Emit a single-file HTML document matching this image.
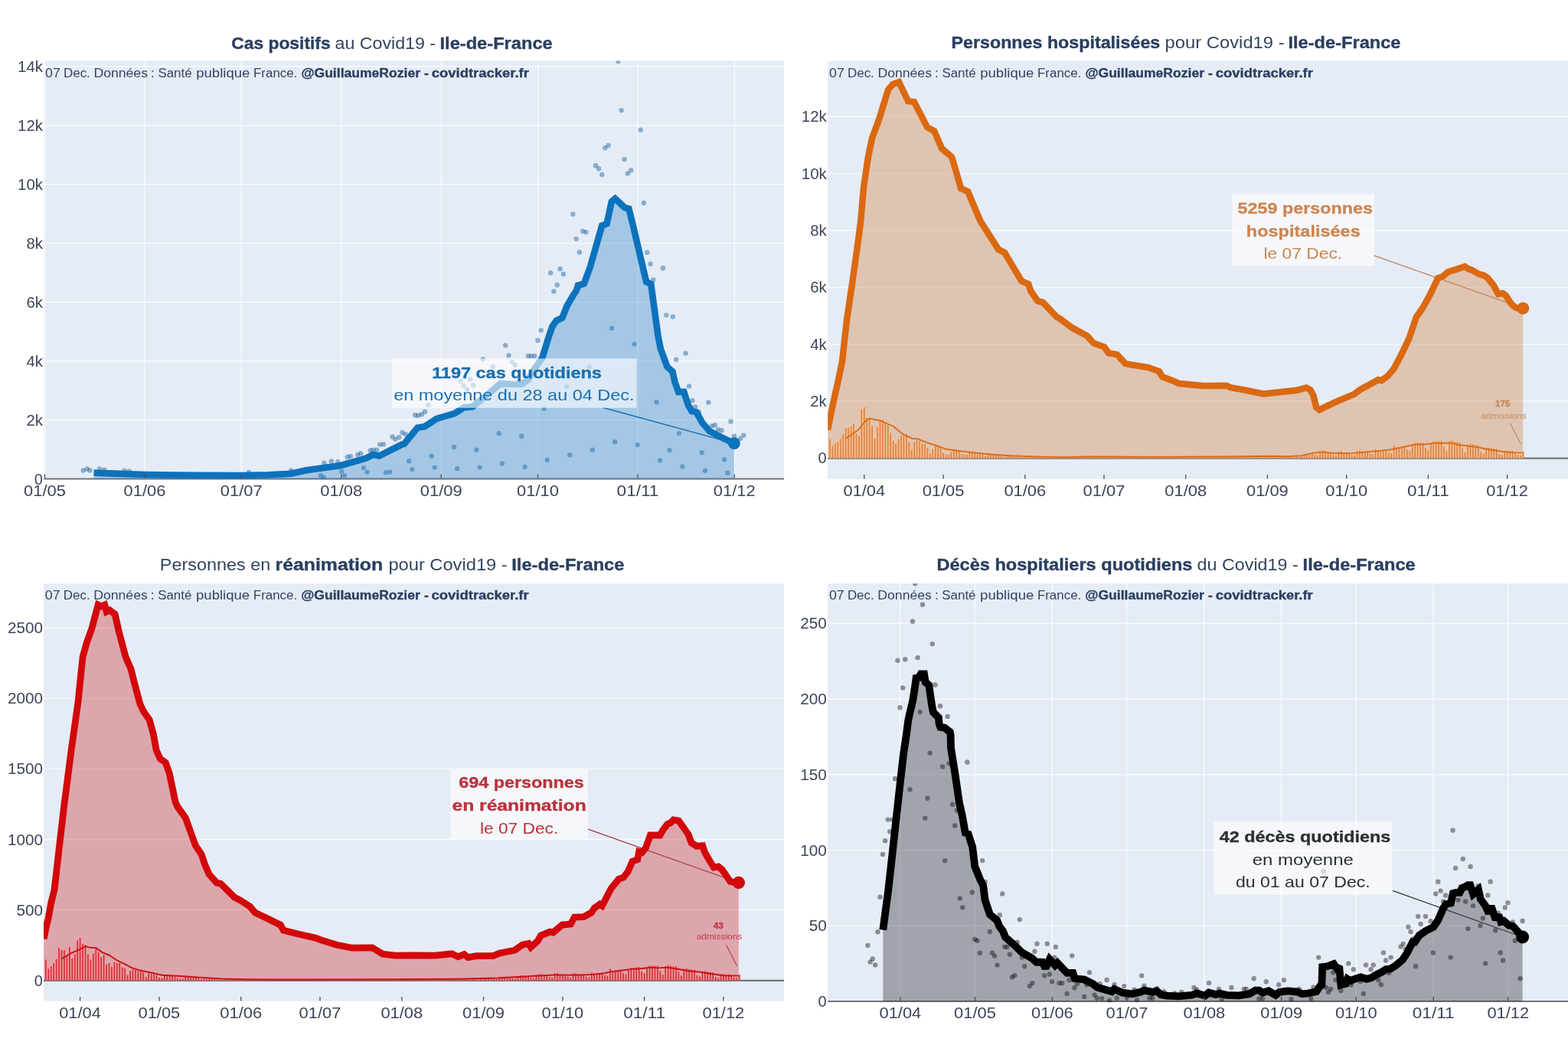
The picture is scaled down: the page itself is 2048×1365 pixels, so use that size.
<!DOCTYPE html>
<html lang="fr">
<head>
<meta charset="utf-8">
<title>Covid19 - Ile-de-France</title>
<style>
html,body{margin:0;padding:0;background:#fff;}
body{width:2048px;height:1365px;overflow:hidden;}
svg{display:block;font-family:"Liberation Sans", sans-serif;}
</style>
</head>
<body>
<svg width="2048" height="1365" viewBox="0 0 2048 1365">
<rect width="2048" height="1365" fill="#fff"/>
<clipPath id="clip1b"><rect x="57.2" y="79.6" width="966.8" height="547.2"/></clipPath>
<clipPath id="clip4b"><rect x="1081.1" y="762.2" width="966.9" height="547.1"/></clipPath>
<clipPath id="clip1"><rect x="57.2" y="79.6" width="966.8" height="546.1"/></clipPath>
<rect x="57.2" y="79.6" width="966.8" height="546.1" fill="#E5ECF6"/>
<path d="M58.5,79.6 V625.7 M189.0,79.6 V625.7 M315.2,79.6 V625.7 M445.7,79.6 V625.7 M576.2,79.6 V625.7 M702.5,79.6 V625.7 M833.0,79.6 V625.7 M959.2,79.6 V625.7 M57.2,548.7 H1024 M57.2,471.7 H1024 M57.2,394.7 H1024 M57.2,317.7 H1024 M57.2,240.7 H1024 M57.2,163.7 H1024 M57.2,86.7 H1024" stroke="#fff" stroke-opacity="0.72" stroke-width="1.4" fill="none" clip-path="url(#clip1)"/>
<text y="63.6" font-size="21.6"><tspan x="302.2" fill="#2a3f5f" font-weight="700" stroke="#2a3f5f" stroke-width="0.35" textLength="129.5" lengthAdjust="spacingAndGlyphs">Cas positifs</tspan> <tspan x="437.5" fill="#34445f" textLength="131.5" lengthAdjust="spacingAndGlyphs">au Covid19 -</tspan> <tspan x="574.5" fill="#2a3f5f" font-weight="700" stroke="#2a3f5f" stroke-width="0.35" textLength="147.2" lengthAdjust="spacingAndGlyphs">Ile-de-France</tspan></text>
<text x="50.2" y="632.7" font-size="20" text-anchor="middle" fill="#3c4558">0</text>
<text x="56.0" y="555.7" font-size="20" text-anchor="end" fill="#3c4558" textLength="21.5" lengthAdjust="spacingAndGlyphs">2k</text>
<text x="56.0" y="478.7" font-size="20" text-anchor="end" fill="#3c4558" textLength="21.5" lengthAdjust="spacingAndGlyphs">4k</text>
<text x="56.0" y="401.7" font-size="20" text-anchor="end" fill="#3c4558" textLength="21.5" lengthAdjust="spacingAndGlyphs">6k</text>
<text x="56.0" y="324.7" font-size="20" text-anchor="end" fill="#3c4558" textLength="21.5" lengthAdjust="spacingAndGlyphs">8k</text>
<text x="56.0" y="247.7" font-size="20" text-anchor="end" fill="#3c4558" textLength="33.0" lengthAdjust="spacingAndGlyphs">10k</text>
<text x="56.0" y="170.7" font-size="20" text-anchor="end" fill="#3c4558" textLength="33.0" lengthAdjust="spacingAndGlyphs">12k</text>
<text x="56.0" y="93.7" font-size="20" text-anchor="end" fill="#3c4558" textLength="33.0" lengthAdjust="spacingAndGlyphs">14k</text>
<path d="M57.2,625.5 H1024" stroke="#73767c" stroke-width="2.2" fill="none"/>
<g fill="rgb(20,95,155)" fill-opacity="0.45" clip-path="url(#clip1)"><circle cx="706.6" cy="431.4" r="3.2"/><circle cx="719.1" cy="356.4" r="3.2"/><circle cx="731.6" cy="351.2" r="3.2"/><circle cx="735.9" cy="358.0" r="3.2"/><circle cx="727.7" cy="372.3" r="3.2"/><circle cx="723.3" cy="380.6" r="3.2"/><circle cx="748.4" cy="279.8" r="3.2"/><circle cx="761.2" cy="302.0" r="3.2"/><circle cx="765.2" cy="303.3" r="3.2"/><circle cx="752.7" cy="311.9" r="3.2"/><circle cx="756.9" cy="329.4" r="3.2"/><circle cx="840.9" cy="265.0" r="3.2"/><circle cx="845.3" cy="329.8" r="3.2"/><circle cx="849.5" cy="344.7" r="3.2"/><circle cx="865.9" cy="350.2" r="3.2"/><circle cx="853.4" cy="365.5" r="3.2"/><circle cx="870.3" cy="411.6" r="3.2"/><circle cx="878.8" cy="413.8" r="3.2"/><circle cx="799.1" cy="428.8" r="3.2"/><circle cx="807.3" cy="80.0" r="3.2"/><circle cx="811.6" cy="144.1" r="3.2"/><circle cx="836.7" cy="169.7" r="3.2"/><circle cx="794.5" cy="190.0" r="3.2"/><circle cx="790.3" cy="193.3" r="3.2"/><circle cx="815.6" cy="208.1" r="3.2"/><circle cx="778.0" cy="216.2" r="3.2"/><circle cx="782.0" cy="220.2" r="3.2"/><circle cx="786.2" cy="228.1" r="3.2"/><circle cx="824.1" cy="222.5" r="3.2"/><circle cx="819.8" cy="226.6" r="3.2"/><circle cx="418.8" cy="621.2" r="3.2"/><circle cx="422.7" cy="623.6" r="3.2"/><circle cx="446.1" cy="615.8" r="3.2"/><circle cx="450.0" cy="621.2" r="3.2"/><circle cx="475.0" cy="611.1" r="3.2"/><circle cx="479.4" cy="616.6" r="3.2"/><circle cx="503.9" cy="617.3" r="3.2"/><circle cx="509.4" cy="616.6" r="3.2"/><circle cx="534.1" cy="602.2" r="3.2"/><circle cx="538.3" cy="613.1" r="3.2"/><circle cx="563.6" cy="595.8" r="3.2"/><circle cx="567.7" cy="610.6" r="3.2"/><circle cx="593.0" cy="584.1" r="3.2"/><circle cx="597.2" cy="611.9" r="3.2"/><circle cx="622.3" cy="587.7" r="3.2"/><circle cx="626.6" cy="610.6" r="3.2"/><circle cx="651.7" cy="566.2" r="3.2"/><circle cx="655.9" cy="605.6" r="3.2"/><circle cx="681.2" cy="569.7" r="3.2"/><circle cx="685.5" cy="610.0" r="3.2"/><circle cx="714.8" cy="600.9" r="3.2"/><circle cx="710.6" cy="533.8" r="3.2"/><circle cx="453.9" cy="597.0" r="3.2"/><circle cx="457.8" cy="595.9" r="3.2"/><circle cx="467.2" cy="593.9" r="3.2"/><circle cx="471.1" cy="592.3" r="3.2"/><circle cx="483.6" cy="588.4" r="3.2"/><circle cx="487.5" cy="587.7" r="3.2"/><circle cx="492.2" cy="587.7" r="3.2"/><circle cx="496.1" cy="580.6" r="3.2"/><circle cx="500.8" cy="580.3" r="3.2"/><circle cx="512.5" cy="570.5" r="3.2"/><circle cx="516.4" cy="573.6" r="3.2"/><circle cx="521.1" cy="571.2" r="3.2"/><circle cx="525.5" cy="565.0" r="3.2"/><circle cx="529.7" cy="567.3" r="3.2"/><circle cx="542.2" cy="542.3" r="3.2"/><circle cx="546.1" cy="542.8" r="3.2"/><circle cx="550.8" cy="541.2" r="3.2"/><circle cx="555.0" cy="537.7" r="3.2"/><circle cx="559.4" cy="529.1" r="3.2"/><circle cx="601.6" cy="497.8" r="3.2"/><circle cx="605.5" cy="503.8" r="3.2"/><circle cx="614.1" cy="495.5" r="3.2"/><circle cx="618.0" cy="503.3" r="3.2"/><circle cx="610.2" cy="508.8" r="3.2"/><circle cx="630.8" cy="469.2" r="3.2"/><circle cx="660.2" cy="451.2" r="3.2"/><circle cx="664.4" cy="464.2" r="3.2"/><circle cx="668.8" cy="472.8" r="3.2"/><circle cx="672.7" cy="476.7" r="3.2"/><circle cx="689.8" cy="465.0" r="3.2"/><circle cx="693.8" cy="465.0" r="3.2"/><circle cx="698.4" cy="465.0" r="3.2"/><circle cx="702.3" cy="444.7" r="3.2"/><circle cx="643.8" cy="479.1" r="3.2"/><circle cx="423.4" cy="604.8" r="3.2"/><circle cx="432.8" cy="602.5" r="3.2"/><circle cx="441.4" cy="603.3" r="3.2"/><circle cx="108.8" cy="614.5" r="3.2"/><circle cx="113.8" cy="612.5" r="3.2"/><circle cx="117.5" cy="614.5" r="3.2"/><circle cx="130.0" cy="612.5" r="3.2"/><circle cx="136.2" cy="613.8" r="3.2"/><circle cx="162.5" cy="615.0" r="3.2"/><circle cx="168.8" cy="615.5" r="3.2"/><circle cx="325.0" cy="617.0" r="3.2"/><circle cx="380.0" cy="614.5" r="3.2"/><circle cx="744.1" cy="594.2" r="3.2"/><circle cx="773.8" cy="587.7" r="3.2"/><circle cx="803.1" cy="577.2" r="3.2"/><circle cx="832.7" cy="581.1" r="3.2"/><circle cx="828.4" cy="449.4" r="3.2"/><circle cx="857.7" cy="525.2" r="3.2"/><circle cx="862.0" cy="601.4" r="3.2"/><circle cx="874.5" cy="588.0" r="3.2"/><circle cx="883.1" cy="469.7" r="3.2"/><circle cx="895.6" cy="461.4" r="3.2"/><circle cx="900.0" cy="504.4" r="3.2"/><circle cx="904.2" cy="523.3" r="3.2"/><circle cx="908.1" cy="531.4" r="3.2"/><circle cx="912.8" cy="538.4" r="3.2"/><circle cx="887.0" cy="566.1" r="3.2"/><circle cx="891.4" cy="609.5" r="3.2"/><circle cx="916.7" cy="591.2" r="3.2"/><circle cx="920.9" cy="614.7" r="3.2"/><circle cx="925.3" cy="525.6" r="3.2"/><circle cx="930.0" cy="556.4" r="3.2"/><circle cx="933.9" cy="555.3" r="3.2"/><circle cx="937.8" cy="561.1" r="3.2"/><circle cx="942.5" cy="562.2" r="3.2"/><circle cx="954.5" cy="550.5" r="3.2"/><circle cx="946.1" cy="600.2" r="3.2"/><circle cx="950.3" cy="617.7" r="3.2"/><circle cx="958.9" cy="569.7" r="3.2"/><circle cx="967.2" cy="572.8" r="3.2"/><circle cx="971.4" cy="568.6" r="3.2"/><circle cx="740.2" cy="504.8" r="3.2"/><circle cx="769.8" cy="479.1" r="3.2"/></g>
<path d="M122.6,617.6 L150.0,618.6 L190.0,620.0 L250.0,620.8 L315.5,621.0 L350.0,620.3 L380.0,618.7 L400.0,614.2 L445.3,608.0 L478.1,598.6 L487.5,593.9 L495.3,595.5 L525.0,580.6 L528.1,579.8 L545.3,558.8 L554.7,557.2 L570.3,547.0 L593.8,540.0 L606.2,532.2 L617.2,531.4 L629.7,521.2 L653.8,501.1 L668.0,501.8 L681.2,502.0 L689.7,496.0 L696.5,484.0 L703.0,475.0 L708.2,467.5 L716.7,440.0 L721.1,426.9 L726.6,419.0 L734.4,415.2 L740.6,399.5 L748.4,386.2 L753.1,379.0 L755.0,372.8 L762.8,370.5 L770.6,349.4 L786.2,294.7 L792.5,292.3 L798.8,263.4 L803.4,259.5 L815.9,271.2 L821.4,272.8 L826.9,294.7 L844.1,368.1 L850.3,371.2 L859.7,440.0 L862.8,455.6 L871.4,479.1 L878.4,485.3 L881.6,499.4 L886.2,511.9 L893.3,511.9 L898.8,529.1 L903.4,536.9 L909.7,538.4 L917.5,552.5 L926.9,563.4 L937.8,568.9 L945.6,572.8 L958.9,579.1 L958.9,625.7 L122.6,625.7 Z" fill="rgb(13,114,188)" fill-opacity="0.3" clip-path="url(#clip1)"/>
<path d="M787.8,532.5 L958.9,579.1" stroke="#1b6fae" stroke-width="1.3" fill="none"/>
<path d="M122.6,617.6 L150.0,618.6 L190.0,620.0 L250.0,620.8 L315.5,621.0 L350.0,620.3 L380.0,618.7 L400.0,614.2 L445.3,608.0 L478.1,598.6 L487.5,593.9 L495.3,595.5 L525.0,580.6 L528.1,579.8 L545.3,558.8 L554.7,557.2 L570.3,547.0 L593.8,540.0 L606.2,532.2 L617.2,531.4 L629.7,521.2 L653.8,501.1 L668.0,501.8 L681.2,502.0 L689.7,496.0 L696.5,484.0 L703.0,475.0 L708.2,467.5 L716.7,440.0 L721.1,426.9 L726.6,419.0 L734.4,415.2 L740.6,399.5 L748.4,386.2 L753.1,379.0 L755.0,372.8 L762.8,370.5 L770.6,349.4 L786.2,294.7 L792.5,292.3 L798.8,263.4 L803.4,259.5 L815.9,271.2 L821.4,272.8 L826.9,294.7 L844.1,368.1 L850.3,371.2 L859.7,440.0 L862.8,455.6 L871.4,479.1 L878.4,485.3 L881.6,499.4 L886.2,511.9 L893.3,511.9 L898.8,529.1 L903.4,536.9 L909.7,538.4 L917.5,552.5 L926.9,563.4 L937.8,568.9 L945.6,572.8 L958.9,579.1" stroke="rgb(13,114,188)" stroke-width="8.6" fill="none" stroke-linejoin="miter" stroke-miterlimit="2" clip-path="url(#clip1b)"/>
<circle cx="958.9" cy="579.1" r="7.9" fill="rgb(13,114,188)"/>
<text x="58.5" y="647.6" font-size="20.5" text-anchor="middle" fill="#3c4558" textLength="54.8" lengthAdjust="spacingAndGlyphs">01/05</text>
<text x="189.0" y="647.6" font-size="20.5" text-anchor="middle" fill="#3c4558" textLength="54.8" lengthAdjust="spacingAndGlyphs">01/06</text>
<text x="315.2" y="647.6" font-size="20.5" text-anchor="middle" fill="#3c4558" textLength="54.8" lengthAdjust="spacingAndGlyphs">01/07</text>
<text x="445.7" y="647.6" font-size="20.5" text-anchor="middle" fill="#3c4558" textLength="54.8" lengthAdjust="spacingAndGlyphs">01/08</text>
<text x="576.2" y="647.6" font-size="20.5" text-anchor="middle" fill="#3c4558" textLength="54.8" lengthAdjust="spacingAndGlyphs">01/09</text>
<text x="702.5" y="647.6" font-size="20.5" text-anchor="middle" fill="#3c4558" textLength="54.8" lengthAdjust="spacingAndGlyphs">01/10</text>
<text x="833.0" y="647.6" font-size="20.5" text-anchor="middle" fill="#3c4558" textLength="54.8" lengthAdjust="spacingAndGlyphs">01/11</text>
<text x="959.2" y="647.6" font-size="20.5" text-anchor="middle" fill="#3c4558" textLength="54.8" lengthAdjust="spacingAndGlyphs">01/12</text>
<path d="M58.5,619.4 V624.6 M189.0,619.4 V624.6 M315.2,619.4 V624.6 M445.7,619.4 V624.6 M576.2,619.4 V624.6 M702.5,619.4 V624.6 M833.0,619.4 V624.6 M959.2,619.4 V624.6" stroke="#4a4d55" stroke-width="1.3" fill="none"/>
<text y="100.8" font-size="17.3"><tspan x="59.0" fill="#34445f" textLength="19.8" lengthAdjust="spacingAndGlyphs">07</tspan> <tspan x="83.0" fill="#34445f" textLength="34.8" lengthAdjust="spacingAndGlyphs">Dec.</tspan> <tspan x="122.4" fill="#34445f" textLength="70.6" lengthAdjust="spacingAndGlyphs">Données</tspan> <tspan x="197.0" fill="#34445f">:</tspan> <tspan x="206.4" fill="#34445f" textLength="44.2" lengthAdjust="spacingAndGlyphs">Santé</tspan> <tspan x="256.2" fill="#34445f" textLength="70.2" lengthAdjust="spacingAndGlyphs">publique</tspan> <tspan x="331.0" fill="#34445f" textLength="57.4" lengthAdjust="spacingAndGlyphs">France.</tspan> <tspan x="393.4" fill="#2a3f5f" font-weight="700" stroke="#2a3f5f" stroke-width="0.35" textLength="155.6" lengthAdjust="spacingAndGlyphs">@GuillaumeRozier</tspan> <tspan x="554.1" fill="#2a3f5f" font-weight="700" stroke="#2a3f5f" stroke-width="0.35">-</tspan> <tspan x="563.8" fill="#2a3f5f" font-weight="700" stroke="#2a3f5f" stroke-width="0.35" textLength="127.1" lengthAdjust="spacingAndGlyphs">covidtracker.fr</tspan></text>
<rect x="512" y="468.3" width="319.6" height="64.5" fill="#fff" fill-opacity="0.6"/>
<text x="675.0" y="493.5" font-size="21" text-anchor="middle" fill="#1b6fae" font-weight="700" stroke="#1b6fae" stroke-width="0.35" textLength="221.7" lengthAdjust="spacingAndGlyphs">1197 cas quotidiens</text>
<text x="671.4" y="523.4" font-size="21" text-anchor="middle" fill="#1b6fae" textLength="314.5" lengthAdjust="spacingAndGlyphs">en moyenne du 28 au 04 Dec.</text>
<clipPath id="clip2"><rect x="1081.2" y="79.6" width="966.8" height="546.0"/></clipPath>
<rect x="1081.2" y="79.6" width="966.8" height="546.0" fill="#E5ECF6"/>
<path d="M1081.2,524.0 H2048 M1081.2,449.7 H2048 M1081.2,375.4 H2048 M1081.2,301.0 H2048 M1081.2,226.6 H2048 M1081.2,152.3 H2048" stroke="#fff" stroke-opacity="0.72" stroke-width="1.4" fill="none" clip-path="url(#clip2)"/>
<text y="63.3" font-size="21.6"><tspan x="1242.5" fill="#2a3f5f" font-weight="700" stroke="#2a3f5f" stroke-width="0.35" textLength="272.8" lengthAdjust="spacingAndGlyphs">Personnes hospitalisées</tspan> <tspan x="1521.6" fill="#34445f" textLength="156.0" lengthAdjust="spacingAndGlyphs">pour Covid19 -</tspan> <tspan x="1682.5" fill="#2a3f5f" font-weight="700" stroke="#2a3f5f" stroke-width="0.35" textLength="147.0" lengthAdjust="spacingAndGlyphs">Ile-de-France</tspan></text>
<text x="1074.0" y="605.4" font-size="20" text-anchor="middle" fill="#3c4558">0</text>
<text x="1079.8" y="531.0" font-size="20" text-anchor="end" fill="#3c4558" textLength="21.5" lengthAdjust="spacingAndGlyphs">2k</text>
<text x="1079.8" y="456.7" font-size="20" text-anchor="end" fill="#3c4558" textLength="21.5" lengthAdjust="spacingAndGlyphs">4k</text>
<text x="1079.8" y="382.4" font-size="20" text-anchor="end" fill="#3c4558" textLength="21.5" lengthAdjust="spacingAndGlyphs">6k</text>
<text x="1079.8" y="308.0" font-size="20" text-anchor="end" fill="#3c4558" textLength="21.5" lengthAdjust="spacingAndGlyphs">8k</text>
<text x="1079.8" y="233.6" font-size="20" text-anchor="end" fill="#3c4558" textLength="33.0" lengthAdjust="spacingAndGlyphs">10k</text>
<text x="1079.8" y="159.3" font-size="20" text-anchor="end" fill="#3c4558" textLength="33.0" lengthAdjust="spacingAndGlyphs">12k</text>
<path d="M1081.2,598.6 H2048" stroke="#73767c" stroke-width="2.2" fill="none"/>
<path d="M1081.1,561.5 L1085.6,539.0 L1090.6,515.6 L1094.2,500.0 L1100.0,472.2 L1106.0,418.1 L1113.1,370.1 L1120.1,320.0 L1124.1,290.0 L1128.1,244.2 L1134.1,204.1 L1139.1,180.1 L1148.1,156.1 L1160.1,117.1 L1166.1,110.0 L1174.1,107.0 L1186.1,132.1 L1194.1,133.1 L1211.1,166.1 L1220.2,171.1 L1230.2,194.1 L1243.2,205.1 L1255.2,246.2 L1264.2,250.2 L1280.2,288.2 L1304.2,326.0 L1312.2,330.0 L1334.3,367.1 L1343.3,371.1 L1346.3,380.1 L1355.3,393.1 L1362.3,395.1 L1380.3,414.1 L1384.3,416.1 L1400.3,428.1 L1420.4,439.1 L1428.4,448.2 L1442.4,453.2 L1448.0,461.1 L1459.0,463.1 L1470.0,475.1 L1500.1,480.1 L1514.1,485.1 L1518.1,492.1 L1536.1,499.1 L1540.1,501.1 L1572.1,504.1 L1602.2,503.7 L1608.2,506.5 L1624.2,509.1 L1650.2,514.5 L1694.2,509.7 L1706.3,506.5 L1711.3,509.1 L1715.3,516.1 L1719.3,532.1 L1723.3,535.2 L1744.3,525.1 L1768.3,515.1 L1776.3,509.1 L1800.4,496.1 L1804.4,497.1 L1812.4,491.1 L1820.4,482.1 L1830.4,463.1 L1840.4,442.1 L1850.0,414.0 L1858.2,402.2 L1868.2,384.2 L1878.2,363.2 L1884.2,361.2 L1891.2,355.2 L1904.3,351.1 L1913.3,348.1 L1918.3,351.7 L1920.8,351.9 L1931.8,358.1 L1938.0,359.7 L1942.7,362.8 L1950.5,372.2 L1956.8,383.9 L1963.0,383.1 L1966.9,386.2 L1972.4,394.8 L1976.3,399.5 L1981.0,402.3 L1989.2,402.7 L1989.2,598.4 L1081.1,598.4 Z" fill="rgb(209,102,21)" fill-opacity="0.3" clip-path="url(#clip2)"/>
<path d="M1794.2,333.7 L1989.2,402.7" stroke="#b98a66" stroke-width="1.3" fill="none"/>
<path d="M1081.1,561.5 L1085.6,539.0 L1090.6,515.6 L1094.2,500.0 L1100.0,472.2 L1106.0,418.1 L1113.1,370.1 L1120.1,320.0 L1124.1,290.0 L1128.1,244.2 L1134.1,204.1 L1139.1,180.1 L1148.1,156.1 L1160.1,117.1 L1166.1,110.0 L1174.1,107.0 L1186.1,132.1 L1194.1,133.1 L1211.1,166.1 L1220.2,171.1 L1230.2,194.1 L1243.2,205.1 L1255.2,246.2 L1264.2,250.2 L1280.2,288.2 L1304.2,326.0 L1312.2,330.0 L1334.3,367.1 L1343.3,371.1 L1346.3,380.1 L1355.3,393.1 L1362.3,395.1 L1380.3,414.1 L1384.3,416.1 L1400.3,428.1 L1420.4,439.1 L1428.4,448.2 L1442.4,453.2 L1448.0,461.1 L1459.0,463.1 L1470.0,475.1 L1500.1,480.1 L1514.1,485.1 L1518.1,492.1 L1536.1,499.1 L1540.1,501.1 L1572.1,504.1 L1602.2,503.7 L1608.2,506.5 L1624.2,509.1 L1650.2,514.5 L1694.2,509.7 L1706.3,506.5 L1711.3,509.1 L1715.3,516.1 L1719.3,532.1 L1723.3,535.2 L1744.3,525.1 L1768.3,515.1 L1776.3,509.1 L1800.4,496.1 L1804.4,497.1 L1812.4,491.1 L1820.4,482.1 L1830.4,463.1 L1840.4,442.1 L1850.0,414.0 L1858.2,402.2 L1868.2,384.2 L1878.2,363.2 L1884.2,361.2 L1891.2,355.2 L1904.3,351.1 L1913.3,348.1 L1918.3,351.7 L1920.8,351.9 L1931.8,358.1 L1938.0,359.7 L1942.7,362.8 L1950.5,372.2 L1956.8,383.9 L1963.0,383.1 L1966.9,386.2 L1972.4,394.8 L1976.3,399.5 L1981.0,402.3 L1989.2,402.7" stroke="rgb(218,105,17)" stroke-width="8.5" fill="none" stroke-linejoin="miter" stroke-miterlimit="2" clip-path="url(#clip2)"/>
<circle cx="1989.2" cy="402.7" r="8.0" fill="rgb(218,105,17)"/>
<path d="M1082.33,598.4 V572.6 h3.44 V598.4 Z M1085.77,598.4 V581.2 h3.44 V598.4 Z M1089.22,598.4 V578.1 h3.44 V598.4 Z M1092.66,598.4 V576.5 h3.44 V598.4 Z M1096.10,598.4 V572.6 h3.44 V598.4 Z M1099.54,598.4 V566.4 h3.44 V598.4 Z M1102.98,598.4 V558.6 h3.44 V598.4 Z M1106.43,598.4 V557.8 h3.44 V598.4 Z M1109.87,598.4 V556.2 h3.44 V598.4 Z M1113.31,598.4 V553.1 h3.44 V598.4 Z M1116.75,598.4 V565.6 h3.44 V598.4 Z M1120.19,598.4 V568.7 h3.44 V598.4 Z M1123.64,598.4 V533.6 h3.44 V598.4 Z M1127.08,598.4 V531.2 h3.44 V598.4 Z M1130.52,598.4 V545.3 h3.44 V598.4 Z M1133.96,598.4 V544.5 h3.44 V598.4 Z M1137.40,598.4 V555.5 h3.44 V598.4 Z M1140.85,598.4 V571.9 h3.44 V598.4 Z M1144.29,598.4 V557.0 h3.44 V598.4 Z M1147.73,598.4 V547.6 h3.44 V598.4 Z M1151.17,598.4 V547.6 h3.44 V598.4 Z M1154.62,598.4 V552.3 h3.44 V598.4 Z M1158.06,598.4 V553.1 h3.44 V598.4 Z M1161.50,598.4 V564.8 h3.44 V598.4 Z M1164.94,598.4 V575.0 h3.44 V598.4 Z M1168.38,598.4 V578.9 h3.44 V598.4 Z M1171.83,598.4 V572.6 h3.44 V598.4 Z M1175.27,598.4 V568.0 h3.44 V598.4 Z M1178.71,598.4 V566.4 h3.44 V598.4 Z M1182.15,598.4 V566.4 h3.44 V598.4 Z M1185.59,598.4 V576.5 h3.44 V598.4 Z M1189.03,598.4 V586.7 h3.44 V598.4 Z M1192.48,598.4 V576.5 h3.44 V598.4 Z M1195.92,598.4 V574.2 h3.44 V598.4 Z M1199.36,598.4 V575.0 h3.44 V598.4 Z M1202.80,598.4 V578.9 h3.44 V598.4 Z M1206.24,598.4 V578.9 h3.44 V598.4 Z M1209.69,598.4 V584.4 h3.44 V598.4 Z M1213.13,598.4 V591.4 h3.44 V598.4 Z M1216.57,598.4 V585.9 h3.44 V598.4 Z M1220.01,598.4 V579.7 h3.44 V598.4 Z M1223.45,598.4 V582.0 h3.44 V598.4 Z M1226.90,598.4 V584.4 h3.44 V598.4 Z M1230.34,598.4 V590.6 h3.44 V598.4 Z M1233.78,598.4 V593.0 h3.44 V598.4 Z M1237.22,598.4 V593.0 h3.44 V598.4 Z M1240.66,598.4 V589.8 h3.44 V598.4 Z M1244.11,598.4 V585.9 h3.44 V598.4 Z M1247.55,598.4 V585.9 h3.44 V598.4 Z M1250.99,598.4 V588.3 h3.44 V598.4 Z M1254.43,598.4 V592.2 h3.44 V598.4 Z M1257.88,598.4 V593.0 h3.44 V598.4 Z M1261.32,598.4 V593.0 h3.44 V598.4 Z M1264.76,598.4 V589.2 h3.44 V598.4 Z M1268.20,598.4 V588.9 h3.44 V598.4 Z M1271.64,598.4 V589.5 h3.44 V598.4 Z M1275.09,598.4 V589.9 h3.44 V598.4 Z M1278.53,598.4 V590.2 h3.44 V598.4 Z M1281.97,598.4 V593.0 h3.44 V598.4 Z M1285.41,598.4 V595.0 h3.44 V598.4 Z M1288.85,598.4 V591.7 h3.44 V598.4 Z M1292.30,598.4 V591.7 h3.44 V598.4 Z M1295.74,598.4 V592.2 h3.44 V598.4 Z M1299.18,598.4 V592.4 h3.44 V598.4 Z M1302.62,598.4 V592.6 h3.44 V598.4 Z M1306.06,598.4 V595.3 h3.44 V598.4 Z M1309.50,598.4 V595.9 h3.44 V598.4 Z M1312.95,598.4 V593.7 h3.44 V598.4 Z M1316.39,598.4 V593.6 h3.44 V598.4 Z M1319.83,598.4 V593.9 h3.44 V598.4 Z M1323.27,598.4 V594.1 h3.44 V598.4 Z M1326.71,598.4 V594.2 h3.44 V598.4 Z M1330.16,598.4 V596.0 h3.44 V598.4 Z M1333.60,598.4 V596.4 h3.44 V598.4 Z M1337.04,598.4 V594.8 h3.44 V598.4 Z M1340.48,598.4 V594.7 h3.44 V598.4 Z M1343.92,598.4 V594.9 h3.44 V598.4 Z M1347.37,598.4 V595.0 h3.44 V598.4 Z M1350.81,598.4 V595.8 h3.44 V598.4 Z M1354.25,598.4 V596.4 h3.44 V598.4 Z M1357.69,598.4 V596.7 h3.44 V598.4 Z M1361.13,598.4 V595.5 h3.44 V598.4 Z M1364.58,598.4 V595.4 h3.44 V598.4 Z M1368.02,598.4 V595.6 h3.44 V598.4 Z M1371.46,598.4 V595.6 h3.44 V598.4 Z M1374.90,598.4 V596.2 h3.44 V598.4 Z M1378.35,598.4 V596.7 h3.44 V598.4 Z M1381.79,598.4 V596.9 h3.44 V598.4 Z M1385.23,598.4 V596.0 h3.44 V598.4 Z M1388.67,598.4 V596.0 h3.44 V598.4 Z M1392.11,598.4 V595.9 h3.44 V598.4 Z M1395.55,598.4 V596.3 h3.44 V598.4 Z M1399.00,598.4 V596.2 h3.44 V598.4 Z M1402.44,598.4 V596.6 h3.44 V598.4 Z M1405.88,598.4 V596.8 h3.44 V598.4 Z M1409.32,598.4 V595.5 h3.44 V598.4 Z M1412.76,598.4 V595.2 h3.44 V598.4 Z M1416.21,598.4 V595.2 h3.44 V598.4 Z M1419.65,598.4 V595.7 h3.44 V598.4 Z M1423.09,598.4 V595.7 h3.44 V598.4 Z M1426.53,598.4 V596.4 h3.44 V598.4 Z M1429.97,598.4 V596.6 h3.44 V598.4 Z M1433.42,598.4 V595.2 h3.44 V598.4 Z M1436.86,598.4 V595.1 h3.44 V598.4 Z M1440.30,598.4 V595.8 h3.44 V598.4 Z M1443.74,598.4 V595.8 h3.44 V598.4 Z M1447.18,598.4 V595.7 h3.44 V598.4 Z M1450.63,598.4 V596.4 h3.44 V598.4 Z M1454.07,598.4 V596.6 h3.44 V598.4 Z M1457.51,598.4 V595.3 h3.44 V598.4 Z M1460.95,598.4 V595.2 h3.44 V598.4 Z M1464.39,598.4 V595.8 h3.44 V598.4 Z M1467.84,598.4 V595.8 h3.44 V598.4 Z M1471.28,598.4 V595.8 h3.44 V598.4 Z M1474.72,598.4 V596.4 h3.44 V598.4 Z M1478.16,598.4 V596.7 h3.44 V598.4 Z M1481.61,598.4 V595.4 h3.44 V598.4 Z M1485.05,598.4 V595.8 h3.44 V598.4 Z M1488.49,598.4 V595.9 h3.44 V598.4 Z M1491.93,598.4 V595.9 h3.44 V598.4 Z M1495.37,598.4 V595.9 h3.44 V598.4 Z M1498.82,598.4 V596.5 h3.44 V598.4 Z M1502.26,598.4 V596.7 h3.44 V598.4 Z M1505.70,598.4 V595.4 h3.44 V598.4 Z M1509.14,598.4 V595.8 h3.44 V598.4 Z M1512.58,598.4 V595.8 h3.44 V598.4 Z M1516.03,598.4 V595.8 h3.44 V598.4 Z M1519.47,598.4 V595.8 h3.44 V598.4 Z M1522.91,598.4 V596.4 h3.44 V598.4 Z M1526.35,598.4 V596.6 h3.44 V598.4 Z M1529.79,598.4 V595.8 h3.44 V598.4 Z M1533.23,598.4 V595.7 h3.44 V598.4 Z M1536.68,598.4 V595.7 h3.44 V598.4 Z M1540.12,598.4 V595.7 h3.44 V598.4 Z M1543.56,598.4 V595.6 h3.44 V598.4 Z M1547.00,598.4 V596.3 h3.44 V598.4 Z M1550.44,598.4 V596.6 h3.44 V598.4 Z M1553.89,598.4 V595.7 h3.44 V598.4 Z M1557.33,598.4 V595.5 h3.44 V598.4 Z M1560.77,598.4 V595.6 h3.44 V598.4 Z M1564.21,598.4 V595.5 h3.44 V598.4 Z M1567.65,598.4 V595.5 h3.44 V598.4 Z M1571.10,598.4 V596.2 h3.44 V598.4 Z M1574.54,598.4 V596.8 h3.44 V598.4 Z M1577.98,598.4 V595.6 h3.44 V598.4 Z M1581.42,598.4 V595.4 h3.44 V598.4 Z M1584.87,598.4 V595.4 h3.44 V598.4 Z M1588.31,598.4 V595.4 h3.44 V598.4 Z M1591.75,598.4 V595.4 h3.44 V598.4 Z M1595.19,598.4 V596.1 h3.44 V598.4 Z M1598.63,598.4 V596.7 h3.44 V598.4 Z M1602.08,598.4 V595.4 h3.44 V598.4 Z M1605.52,598.4 V595.2 h3.44 V598.4 Z M1608.96,598.4 V595.2 h3.44 V598.4 Z M1612.40,598.4 V595.1 h3.44 V598.4 Z M1615.84,598.4 V595.1 h3.44 V598.4 Z M1619.28,598.4 V596.3 h3.44 V598.4 Z M1622.73,598.4 V596.6 h3.44 V598.4 Z M1626.17,598.4 V595.1 h3.44 V598.4 Z M1629.61,598.4 V594.8 h3.44 V598.4 Z M1633.05,598.4 V594.8 h3.44 V598.4 Z M1636.49,598.4 V594.7 h3.44 V598.4 Z M1639.94,598.4 V594.7 h3.44 V598.4 Z M1643.38,598.4 V596.1 h3.44 V598.4 Z M1646.82,598.4 V596.4 h3.44 V598.4 Z M1650.26,598.4 V594.7 h3.44 V598.4 Z M1653.70,598.4 V594.4 h3.44 V598.4 Z M1657.15,598.4 V594.4 h3.44 V598.4 Z M1660.59,598.4 V594.4 h3.44 V598.4 Z M1664.03,598.4 V595.3 h3.44 V598.4 Z M1667.47,598.4 V596.1 h3.44 V598.4 Z M1670.91,598.4 V596.4 h3.44 V598.4 Z M1674.36,598.4 V594.9 h3.44 V598.4 Z M1677.80,598.4 V594.7 h3.44 V598.4 Z M1681.24,598.4 V594.7 h3.44 V598.4 Z M1684.68,598.4 V594.4 h3.44 V598.4 Z M1688.12,598.4 V595.0 h3.44 V598.4 Z M1691.57,598.4 V595.8 h3.44 V598.4 Z M1695.01,598.4 V596.1 h3.44 V598.4 Z M1698.45,598.4 V593.7 h3.44 V598.4 Z M1701.89,598.4 V592.3 h3.44 V598.4 Z M1705.34,598.4 V591.4 h3.44 V598.4 Z M1708.78,598.4 V592.1 h3.44 V598.4 Z M1712.22,598.4 V591.2 h3.44 V598.4 Z M1715.66,598.4 V593.1 h3.44 V598.4 Z M1719.10,598.4 V593.9 h3.44 V598.4 Z M1722.55,598.4 V588.3 h3.44 V598.4 Z M1725.99,598.4 V587.1 h3.44 V598.4 Z M1729.43,598.4 V587.7 h3.44 V598.4 Z M1732.87,598.4 V590.5 h3.44 V598.4 Z M1736.31,598.4 V590.7 h3.44 V598.4 Z M1739.76,598.4 V593.2 h3.44 V598.4 Z M1743.20,598.4 V594.2 h3.44 V598.4 Z M1746.64,598.4 V589.4 h3.44 V598.4 Z M1750.08,598.4 V588.8 h3.44 V598.4 Z M1753.52,598.4 V591.3 h3.44 V598.4 Z M1756.97,598.4 V591.3 h3.44 V598.4 Z M1760.41,598.4 V591.1 h3.44 V598.4 Z M1763.85,598.4 V593.2 h3.44 V598.4 Z M1767.29,598.4 V594.0 h3.44 V598.4 Z M1770.73,598.4 V588.5 h3.44 V598.4 Z M1774.17,598.4 V587.4 h3.44 V598.4 Z M1777.62,598.4 V589.8 h3.44 V598.4 Z M1781.06,598.4 V589.4 h3.44 V598.4 Z M1784.50,598.4 V589.0 h3.44 V598.4 Z M1787.94,598.4 V591.7 h3.44 V598.4 Z M1791.38,598.4 V592.8 h3.44 V598.4 Z M1794.83,598.4 V585.6 h3.44 V598.4 Z M1798.27,598.4 V587.6 h3.44 V598.4 Z M1801.71,598.4 V587.4 h3.44 V598.4 Z M1805.15,598.4 V586.9 h3.44 V598.4 Z M1808.60,598.4 V586.3 h3.44 V598.4 Z M1812.04,598.4 V590.0 h3.44 V598.4 Z M1815.48,598.4 V591.3 h3.44 V598.4 Z M1818.92,598.4 V581.3 h3.44 V598.4 Z M1822.36,598.4 V583.6 h3.44 V598.4 Z M1825.80,598.4 V583.1 h3.44 V598.4 Z M1829.25,598.4 V582.2 h3.44 V598.4 Z M1832.69,598.4 V581.1 h3.44 V598.4 Z M1836.13,598.4 V586.2 h3.44 V598.4 Z M1839.57,598.4 V588.2 h3.44 V598.4 Z M1843.01,598.4 V579.8 h3.44 V598.4 Z M1846.46,598.4 V577.4 h3.44 V598.4 Z M1849.90,598.4 V577.8 h3.44 V598.4 Z M1853.34,598.4 V577.6 h3.44 V598.4 Z M1856.78,598.4 V577.3 h3.44 V598.4 Z M1860.22,598.4 V584.2 h3.44 V598.4 Z M1863.67,598.4 V586.8 h3.44 V598.4 Z M1867.11,598.4 V577.4 h3.44 V598.4 Z M1870.55,598.4 V575.2 h3.44 V598.4 Z M1873.99,598.4 V575.5 h3.44 V598.4 Z M1877.43,598.4 V575.3 h3.44 V598.4 Z M1880.88,598.4 V574.9 h3.44 V598.4 Z M1884.32,598.4 V582.7 h3.44 V598.4 Z M1887.76,598.4 V588.8 h3.44 V598.4 Z M1891.20,598.4 V576.0 h3.44 V598.4 Z M1894.64,598.4 V574.5 h3.44 V598.4 Z M1898.09,598.4 V576.0 h3.44 V598.4 Z M1901.53,598.4 V576.8 h3.44 V598.4 Z M1904.97,598.4 V577.4 h3.44 V598.4 Z M1908.41,598.4 V584.7 h3.44 V598.4 Z M1911.86,598.4 V590.1 h3.44 V598.4 Z M1915.30,598.4 V579.8 h3.44 V598.4 Z M1918.74,598.4 V578.8 h3.44 V598.4 Z M1922.18,598.4 V579.7 h3.44 V598.4 Z M1925.62,598.4 V580.2 h3.44 V598.4 Z M1929.07,598.4 V580.7 h3.44 V598.4 Z M1932.51,598.4 V589.7 h3.44 V598.4 Z M1935.95,598.4 V591.6 h3.44 V598.4 Z M1939.39,598.4 V583.9 h3.44 V598.4 Z M1942.83,598.4 V583.6 h3.44 V598.4 Z M1946.28,598.4 V584.6 h3.44 V598.4 Z M1949.72,598.4 V585.2 h3.44 V598.4 Z M1953.16,598.4 V585.7 h3.44 V598.4 Z M1956.60,598.4 V592.0 h3.44 V598.4 Z M1960.04,598.4 V593.4 h3.44 V598.4 Z M1963.49,598.4 V588.1 h3.44 V598.4 Z M1966.93,598.4 V587.6 h3.44 V598.4 Z M1970.37,598.4 V588.1 h3.44 V598.4 Z M1973.81,598.4 V588.3 h3.44 V598.4 Z M1977.25,598.4 V590.8 h3.44 V598.4 Z M1980.69,598.4 V593.1 h3.44 V598.4 Z M1984.14,598.4 V594.1 h3.44 V598.4 Z M1987.58,598.4 V589.2 h3.44 V598.4 Z" fill="rgb(250,192,145)" fill-opacity="0.8" clip-path="url(#clip2)"/>
<path d="M1083.20,598.4 V573.4 h1.7 V598.4 Z M1086.65,598.4 V582.0 h1.7 V598.4 Z M1090.09,598.4 V578.9 h1.7 V598.4 Z M1093.53,598.4 V577.3 h1.7 V598.4 Z M1096.97,598.4 V573.4 h1.7 V598.4 Z M1100.41,598.4 V567.2 h1.7 V598.4 Z M1103.86,598.4 V559.4 h1.7 V598.4 Z M1107.30,598.4 V558.6 h1.7 V598.4 Z M1110.74,598.4 V557.0 h1.7 V598.4 Z M1114.18,598.4 V553.9 h1.7 V598.4 Z M1117.62,598.4 V566.4 h1.7 V598.4 Z M1121.07,598.4 V569.5 h1.7 V598.4 Z M1124.51,598.4 V534.4 h1.7 V598.4 Z M1127.95,598.4 V532.0 h1.7 V598.4 Z M1131.39,598.4 V546.1 h1.7 V598.4 Z M1134.83,598.4 V545.3 h1.7 V598.4 Z M1138.28,598.4 V556.2 h1.7 V598.4 Z M1141.72,598.4 V572.7 h1.7 V598.4 Z M1145.16,598.4 V557.8 h1.7 V598.4 Z M1148.60,598.4 V548.4 h1.7 V598.4 Z M1152.04,598.4 V548.4 h1.7 V598.4 Z M1155.49,598.4 V553.1 h1.7 V598.4 Z M1158.93,598.4 V553.9 h1.7 V598.4 Z M1162.37,598.4 V565.6 h1.7 V598.4 Z M1165.81,598.4 V575.8 h1.7 V598.4 Z M1169.25,598.4 V579.7 h1.7 V598.4 Z M1172.70,598.4 V573.4 h1.7 V598.4 Z M1176.14,598.4 V568.8 h1.7 V598.4 Z M1179.58,598.4 V567.2 h1.7 V598.4 Z M1183.02,598.4 V567.2 h1.7 V598.4 Z M1186.46,598.4 V577.3 h1.7 V598.4 Z M1189.91,598.4 V587.5 h1.7 V598.4 Z M1193.35,598.4 V577.3 h1.7 V598.4 Z M1196.79,598.4 V575.0 h1.7 V598.4 Z M1200.23,598.4 V575.8 h1.7 V598.4 Z M1203.67,598.4 V579.7 h1.7 V598.4 Z M1207.12,598.4 V579.7 h1.7 V598.4 Z M1210.56,598.4 V585.2 h1.7 V598.4 Z M1214.00,598.4 V592.2 h1.7 V598.4 Z M1217.44,598.4 V586.7 h1.7 V598.4 Z M1220.88,598.4 V580.5 h1.7 V598.4 Z M1224.33,598.4 V582.8 h1.7 V598.4 Z M1227.77,598.4 V585.2 h1.7 V598.4 Z M1231.21,598.4 V591.4 h1.7 V598.4 Z M1234.65,598.4 V593.8 h1.7 V598.4 Z M1238.09,598.4 V593.8 h1.7 V598.4 Z M1241.54,598.4 V590.6 h1.7 V598.4 Z M1244.98,598.4 V586.7 h1.7 V598.4 Z M1248.42,598.4 V586.7 h1.7 V598.4 Z M1251.86,598.4 V589.1 h1.7 V598.4 Z M1255.30,598.4 V593.0 h1.7 V598.4 Z M1258.75,598.4 V593.8 h1.7 V598.4 Z M1262.19,598.4 V593.8 h1.7 V598.4 Z M1265.63,598.4 V590.0 h1.7 V598.4 Z M1269.07,598.4 V589.7 h1.7 V598.4 Z M1272.51,598.4 V590.3 h1.7 V598.4 Z M1275.96,598.4 V590.7 h1.7 V598.4 Z M1279.40,598.4 V591.0 h1.7 V598.4 Z M1282.84,598.4 V593.8 h1.7 V598.4 Z M1286.28,598.4 V595.8 h1.7 V598.4 Z M1289.72,598.4 V592.5 h1.7 V598.4 Z M1293.17,598.4 V592.5 h1.7 V598.4 Z M1296.61,598.4 V593.0 h1.7 V598.4 Z M1300.05,598.4 V593.2 h1.7 V598.4 Z M1303.49,598.4 V593.4 h1.7 V598.4 Z M1306.93,598.4 V596.1 h1.7 V598.4 Z M1310.38,598.4 V596.7 h1.7 V598.4 Z M1313.82,598.4 V594.5 h1.7 V598.4 Z M1317.26,598.4 V594.4 h1.7 V598.4 Z M1320.70,598.4 V594.7 h1.7 V598.4 Z M1324.14,598.4 V594.9 h1.7 V598.4 Z M1327.59,598.4 V595.0 h1.7 V598.4 Z M1331.03,598.4 V596.8 h1.7 V598.4 Z M1334.47,598.4 V597.2 h1.7 V598.4 Z M1337.91,598.4 V595.6 h1.7 V598.4 Z M1341.35,598.4 V595.5 h1.7 V598.4 Z M1344.80,598.4 V595.7 h1.7 V598.4 Z M1348.24,598.4 V595.8 h1.7 V598.4 Z M1351.68,598.4 V596.6 h1.7 V598.4 Z M1355.12,598.4 V597.2 h1.7 V598.4 Z M1358.56,598.4 V597.5 h1.7 V598.4 Z M1362.01,598.4 V596.3 h1.7 V598.4 Z M1365.45,598.4 V596.2 h1.7 V598.4 Z M1368.89,598.4 V596.4 h1.7 V598.4 Z M1372.33,598.4 V596.4 h1.7 V598.4 Z M1375.77,598.4 V597.0 h1.7 V598.4 Z M1379.22,598.4 V597.5 h1.7 V598.4 Z M1382.66,598.4 V597.7 h1.7 V598.4 Z M1386.10,598.4 V596.8 h1.7 V598.4 Z M1389.54,598.4 V596.8 h1.7 V598.4 Z M1392.98,598.4 V596.7 h1.7 V598.4 Z M1396.43,598.4 V597.1 h1.7 V598.4 Z M1399.87,598.4 V597.0 h1.7 V598.4 Z M1403.31,598.4 V597.4 h1.7 V598.4 Z M1406.75,598.4 V597.6 h1.7 V598.4 Z M1410.19,598.4 V596.3 h1.7 V598.4 Z M1413.64,598.4 V596.0 h1.7 V598.4 Z M1417.08,598.4 V596.0 h1.7 V598.4 Z M1420.52,598.4 V596.5 h1.7 V598.4 Z M1423.96,598.4 V596.5 h1.7 V598.4 Z M1427.40,598.4 V597.2 h1.7 V598.4 Z M1430.85,598.4 V597.4 h1.7 V598.4 Z M1434.29,598.4 V596.0 h1.7 V598.4 Z M1437.73,598.4 V595.9 h1.7 V598.4 Z M1441.17,598.4 V596.6 h1.7 V598.4 Z M1444.61,598.4 V596.6 h1.7 V598.4 Z M1448.06,598.4 V596.5 h1.7 V598.4 Z M1451.50,598.4 V597.2 h1.7 V598.4 Z M1454.94,598.4 V597.4 h1.7 V598.4 Z M1458.38,598.4 V596.1 h1.7 V598.4 Z M1461.82,598.4 V596.0 h1.7 V598.4 Z M1465.27,598.4 V596.6 h1.7 V598.4 Z M1468.71,598.4 V596.6 h1.7 V598.4 Z M1472.15,598.4 V596.6 h1.7 V598.4 Z M1475.59,598.4 V597.2 h1.7 V598.4 Z M1479.03,598.4 V597.5 h1.7 V598.4 Z M1482.48,598.4 V596.2 h1.7 V598.4 Z M1485.92,598.4 V596.6 h1.7 V598.4 Z M1489.36,598.4 V596.7 h1.7 V598.4 Z M1492.80,598.4 V596.7 h1.7 V598.4 Z M1496.24,598.4 V596.7 h1.7 V598.4 Z M1499.69,598.4 V597.3 h1.7 V598.4 Z M1503.13,598.4 V597.5 h1.7 V598.4 Z M1506.57,598.4 V596.2 h1.7 V598.4 Z M1510.01,598.4 V596.6 h1.7 V598.4 Z M1513.45,598.4 V596.6 h1.7 V598.4 Z M1516.90,598.4 V596.6 h1.7 V598.4 Z M1520.34,598.4 V596.6 h1.7 V598.4 Z M1523.78,598.4 V597.2 h1.7 V598.4 Z M1527.22,598.4 V597.4 h1.7 V598.4 Z M1530.66,598.4 V596.6 h1.7 V598.4 Z M1534.11,598.4 V596.5 h1.7 V598.4 Z M1537.55,598.4 V596.5 h1.7 V598.4 Z M1540.99,598.4 V596.5 h1.7 V598.4 Z M1544.43,598.4 V596.4 h1.7 V598.4 Z M1547.87,598.4 V597.1 h1.7 V598.4 Z M1551.32,598.4 V597.4 h1.7 V598.4 Z M1554.76,598.4 V596.5 h1.7 V598.4 Z M1558.20,598.4 V596.3 h1.7 V598.4 Z M1561.64,598.4 V596.4 h1.7 V598.4 Z M1565.08,598.4 V596.3 h1.7 V598.4 Z M1568.53,598.4 V596.3 h1.7 V598.4 Z M1571.97,598.4 V597.0 h1.7 V598.4 Z M1575.41,598.4 V597.6 h1.7 V598.4 Z M1578.85,598.4 V596.4 h1.7 V598.4 Z M1582.29,598.4 V596.2 h1.7 V598.4 Z M1585.74,598.4 V596.2 h1.7 V598.4 Z M1589.18,598.4 V596.2 h1.7 V598.4 Z M1592.62,598.4 V596.2 h1.7 V598.4 Z M1596.06,598.4 V596.9 h1.7 V598.4 Z M1599.50,598.4 V597.5 h1.7 V598.4 Z M1602.95,598.4 V596.2 h1.7 V598.4 Z M1606.39,598.4 V596.0 h1.7 V598.4 Z M1609.83,598.4 V596.0 h1.7 V598.4 Z M1613.27,598.4 V595.9 h1.7 V598.4 Z M1616.71,598.4 V595.9 h1.7 V598.4 Z M1620.16,598.4 V597.1 h1.7 V598.4 Z M1623.60,598.4 V597.4 h1.7 V598.4 Z M1627.04,598.4 V595.9 h1.7 V598.4 Z M1630.48,598.4 V595.6 h1.7 V598.4 Z M1633.92,598.4 V595.6 h1.7 V598.4 Z M1637.37,598.4 V595.5 h1.7 V598.4 Z M1640.81,598.4 V595.5 h1.7 V598.4 Z M1644.25,598.4 V596.9 h1.7 V598.4 Z M1647.69,598.4 V597.2 h1.7 V598.4 Z M1651.13,598.4 V595.5 h1.7 V598.4 Z M1654.58,598.4 V595.2 h1.7 V598.4 Z M1658.02,598.4 V595.2 h1.7 V598.4 Z M1661.46,598.4 V595.2 h1.7 V598.4 Z M1664.90,598.4 V596.1 h1.7 V598.4 Z M1668.34,598.4 V596.9 h1.7 V598.4 Z M1671.79,598.4 V597.2 h1.7 V598.4 Z M1675.23,598.4 V595.7 h1.7 V598.4 Z M1678.67,598.4 V595.5 h1.7 V598.4 Z M1682.11,598.4 V595.5 h1.7 V598.4 Z M1685.55,598.4 V595.2 h1.7 V598.4 Z M1689.00,598.4 V595.8 h1.7 V598.4 Z M1692.44,598.4 V596.6 h1.7 V598.4 Z M1695.88,598.4 V596.9 h1.7 V598.4 Z M1699.32,598.4 V594.5 h1.7 V598.4 Z M1702.76,598.4 V593.1 h1.7 V598.4 Z M1706.21,598.4 V592.2 h1.7 V598.4 Z M1709.65,598.4 V592.9 h1.7 V598.4 Z M1713.09,598.4 V592.0 h1.7 V598.4 Z M1716.53,598.4 V593.9 h1.7 V598.4 Z M1719.97,598.4 V594.7 h1.7 V598.4 Z M1723.42,598.4 V589.1 h1.7 V598.4 Z M1726.86,598.4 V587.9 h1.7 V598.4 Z M1730.30,598.4 V588.5 h1.7 V598.4 Z M1733.74,598.4 V591.3 h1.7 V598.4 Z M1737.18,598.4 V591.5 h1.7 V598.4 Z M1740.63,598.4 V594.0 h1.7 V598.4 Z M1744.07,598.4 V595.0 h1.7 V598.4 Z M1747.51,598.4 V590.2 h1.7 V598.4 Z M1750.95,598.4 V589.6 h1.7 V598.4 Z M1754.39,598.4 V592.1 h1.7 V598.4 Z M1757.84,598.4 V592.1 h1.7 V598.4 Z M1761.28,598.4 V591.9 h1.7 V598.4 Z M1764.72,598.4 V594.0 h1.7 V598.4 Z M1768.16,598.4 V594.8 h1.7 V598.4 Z M1771.60,598.4 V589.3 h1.7 V598.4 Z M1775.05,598.4 V588.2 h1.7 V598.4 Z M1778.49,598.4 V590.6 h1.7 V598.4 Z M1781.93,598.4 V590.2 h1.7 V598.4 Z M1785.37,598.4 V589.8 h1.7 V598.4 Z M1788.81,598.4 V592.5 h1.7 V598.4 Z M1792.26,598.4 V593.6 h1.7 V598.4 Z M1795.70,598.4 V586.4 h1.7 V598.4 Z M1799.14,598.4 V588.4 h1.7 V598.4 Z M1802.58,598.4 V588.2 h1.7 V598.4 Z M1806.02,598.4 V587.7 h1.7 V598.4 Z M1809.47,598.4 V587.1 h1.7 V598.4 Z M1812.91,598.4 V590.8 h1.7 V598.4 Z M1816.35,598.4 V592.1 h1.7 V598.4 Z M1819.79,598.4 V582.1 h1.7 V598.4 Z M1823.23,598.4 V584.4 h1.7 V598.4 Z M1826.68,598.4 V583.9 h1.7 V598.4 Z M1830.12,598.4 V583.0 h1.7 V598.4 Z M1833.56,598.4 V581.9 h1.7 V598.4 Z M1837.00,598.4 V587.0 h1.7 V598.4 Z M1840.44,598.4 V589.0 h1.7 V598.4 Z M1843.89,598.4 V580.6 h1.7 V598.4 Z M1847.33,598.4 V578.2 h1.7 V598.4 Z M1850.77,598.4 V578.6 h1.7 V598.4 Z M1854.21,598.4 V578.4 h1.7 V598.4 Z M1857.65,598.4 V578.1 h1.7 V598.4 Z M1861.10,598.4 V585.0 h1.7 V598.4 Z M1864.54,598.4 V587.6 h1.7 V598.4 Z M1867.98,598.4 V578.2 h1.7 V598.4 Z M1871.42,598.4 V576.0 h1.7 V598.4 Z M1874.86,598.4 V576.3 h1.7 V598.4 Z M1878.31,598.4 V576.1 h1.7 V598.4 Z M1881.75,598.4 V575.7 h1.7 V598.4 Z M1885.19,598.4 V583.5 h1.7 V598.4 Z M1888.63,598.4 V589.6 h1.7 V598.4 Z M1892.07,598.4 V576.8 h1.7 V598.4 Z M1895.52,598.4 V575.3 h1.7 V598.4 Z M1898.96,598.4 V576.8 h1.7 V598.4 Z M1902.40,598.4 V577.6 h1.7 V598.4 Z M1905.84,598.4 V578.2 h1.7 V598.4 Z M1909.28,598.4 V585.5 h1.7 V598.4 Z M1912.73,598.4 V590.9 h1.7 V598.4 Z M1916.17,598.4 V580.6 h1.7 V598.4 Z M1919.61,598.4 V579.6 h1.7 V598.4 Z M1923.05,598.4 V580.5 h1.7 V598.4 Z M1926.49,598.4 V581.0 h1.7 V598.4 Z M1929.94,598.4 V581.5 h1.7 V598.4 Z M1933.38,598.4 V590.5 h1.7 V598.4 Z M1936.82,598.4 V592.4 h1.7 V598.4 Z M1940.26,598.4 V584.7 h1.7 V598.4 Z M1943.70,598.4 V584.4 h1.7 V598.4 Z M1947.15,598.4 V585.4 h1.7 V598.4 Z M1950.59,598.4 V586.0 h1.7 V598.4 Z M1954.03,598.4 V586.5 h1.7 V598.4 Z M1957.47,598.4 V592.8 h1.7 V598.4 Z M1960.91,598.4 V594.2 h1.7 V598.4 Z M1964.36,598.4 V588.9 h1.7 V598.4 Z M1967.80,598.4 V588.4 h1.7 V598.4 Z M1971.24,598.4 V588.9 h1.7 V598.4 Z M1974.68,598.4 V589.1 h1.7 V598.4 Z M1978.12,598.4 V591.6 h1.7 V598.4 Z M1981.57,598.4 V593.9 h1.7 V598.4 Z M1985.01,598.4 V594.9 h1.7 V598.4 Z M1988.45,598.4 V590.0 h1.7 V598.4 Z" fill="rgb(214,120,48)" fill-opacity="0.85" clip-path="url(#clip2)"/>
<path d="M1105.2,572.7 L1121.6,560.9 L1132.5,547.7 L1137.2,546.9 L1151.2,550.0 L1166.9,557.0 L1179.4,567.2 L1191.9,573.1 L1198.1,573.1 L1210.6,578.1 L1223.1,582.0 L1235.6,586.7 L1246.6,588.3 L1270.0,591.1 L1296.6,593.8 L1320.0,595.3 L1351.2,596.4 L1390.0,597.2 L1420.0,596.5 L1500.0,596.8 L1600.0,596.5 L1660.0,595.8 L1680.2,596.2 L1700.3,595.2 L1714.3,591.8 L1728.3,590.6 L1740.3,591.8 L1760.3,592.2 L1767.1,591.9 L1796.8,589.4 L1815.5,587.5 L1834.2,583.6 L1848.3,580.5 L1860.8,580.5 L1873.3,578.9 L1895.2,578.6 L1906.1,581.2 L1926.4,583.6 L1946.8,587.5 L1965.5,590.3 L1978.0,591.1 L1988.2,591.4" stroke="rgb(214,110,30)" stroke-width="1.9" fill="none" stroke-linejoin="round" clip-path="url(#clip2)"/>
<text x="1128.8" y="647.6" font-size="20.5" text-anchor="middle" fill="#3c4558" textLength="54.8" lengthAdjust="spacingAndGlyphs">01/04</text>
<text x="1232.1" y="647.6" font-size="20.5" text-anchor="middle" fill="#3c4558" textLength="54.8" lengthAdjust="spacingAndGlyphs">01/05</text>
<text x="1338.8" y="647.6" font-size="20.5" text-anchor="middle" fill="#3c4558" textLength="54.8" lengthAdjust="spacingAndGlyphs">01/06</text>
<text x="1442.0" y="647.6" font-size="20.5" text-anchor="middle" fill="#3c4558" textLength="54.8" lengthAdjust="spacingAndGlyphs">01/07</text>
<text x="1548.7" y="647.6" font-size="20.5" text-anchor="middle" fill="#3c4558" textLength="54.8" lengthAdjust="spacingAndGlyphs">01/08</text>
<text x="1655.4" y="647.6" font-size="20.5" text-anchor="middle" fill="#3c4558" textLength="54.8" lengthAdjust="spacingAndGlyphs">01/09</text>
<text x="1758.7" y="647.6" font-size="20.5" text-anchor="middle" fill="#3c4558" textLength="54.8" lengthAdjust="spacingAndGlyphs">01/10</text>
<text x="1865.4" y="647.6" font-size="20.5" text-anchor="middle" fill="#3c4558" textLength="54.8" lengthAdjust="spacingAndGlyphs">01/11</text>
<text x="1968.6" y="647.6" font-size="20.5" text-anchor="middle" fill="#3c4558" textLength="54.8" lengthAdjust="spacingAndGlyphs">01/12</text>
<path d="M1128.8,620.0 V625.6 M1232.1,620.0 V625.6 M1338.8,620.0 V625.6 M1442.0,620.0 V625.6 M1548.7,620.0 V625.6 M1655.4,620.0 V625.6 M1758.7,620.0 V625.6 M1865.4,620.0 V625.6 M1968.6,620.0 V625.6" stroke="#4a4d55" stroke-width="1.3" fill="none"/>
<text y="100.8" font-size="17.3"><tspan x="1083.0" fill="#34445f" textLength="19.8" lengthAdjust="spacingAndGlyphs">07</tspan> <tspan x="1107.0" fill="#34445f" textLength="34.8" lengthAdjust="spacingAndGlyphs">Dec.</tspan> <tspan x="1146.4" fill="#34445f" textLength="70.6" lengthAdjust="spacingAndGlyphs">Données</tspan> <tspan x="1221.0" fill="#34445f">:</tspan> <tspan x="1230.4" fill="#34445f" textLength="44.2" lengthAdjust="spacingAndGlyphs">Santé</tspan> <tspan x="1280.2" fill="#34445f" textLength="70.2" lengthAdjust="spacingAndGlyphs">publique</tspan> <tspan x="1355.0" fill="#34445f" textLength="57.4" lengthAdjust="spacingAndGlyphs">France.</tspan> <tspan x="1417.4" fill="#2a3f5f" font-weight="700" stroke="#2a3f5f" stroke-width="0.35" textLength="155.6" lengthAdjust="spacingAndGlyphs">@GuillaumeRozier</tspan> <tspan x="1578.1" fill="#2a3f5f" font-weight="700" stroke="#2a3f5f" stroke-width="0.35">-</tspan> <tspan x="1587.8" fill="#2a3f5f" font-weight="700" stroke="#2a3f5f" stroke-width="0.35" textLength="127.1" lengthAdjust="spacingAndGlyphs">covidtracker.fr</tspan></text>
<rect x="1609" y="253.6" width="186.0" height="93.6" fill="#fff" fill-opacity="0.6"/>
<text x="1704.8" y="279.3" font-size="21" text-anchor="middle" fill="#cb8651" font-weight="700" stroke="#cb8651" stroke-width="0.35" textLength="176.4" lengthAdjust="spacingAndGlyphs">5259 personnes</text>
<text x="1702.3" y="308.5" font-size="21" text-anchor="middle" fill="#cb8651" font-weight="700" stroke="#cb8651" stroke-width="0.35" textLength="148.9" lengthAdjust="spacingAndGlyphs">hospitalisées</text>
<text x="1701.8" y="338.3" font-size="21" text-anchor="middle" fill="#cb8651" textLength="102.8" lengthAdjust="spacingAndGlyphs">le 07 Dec.</text>
<text x="1962.8" y="531.3" font-size="11" text-anchor="middle" fill="#c68a5c" font-weight="700" stroke="#c68a5c" stroke-width="0.35" textLength="19.4" lengthAdjust="spacingAndGlyphs">175</text>
<text x="1964.0" y="546.6" font-size="11" text-anchor="middle" fill="#c68a5c" textLength="59.7" lengthAdjust="spacingAndGlyphs">admissions</text>
<path d="M1972.5,553.1 L1986.6,580.5" stroke="#b48c70" stroke-width="1.1" fill="none"/>
<clipPath id="clip3"><rect x="57.0" y="762.3" width="967.0" height="545.3"/></clipPath>
<rect x="57.0" y="762.3" width="967.0" height="545.3" fill="#E5ECF6"/>
<path d="M57.0,1188.5 H1024 M57.0,1096.5 H1024 M57.0,1004.4 H1024 M57.0,912.4 H1024 M57.0,820.3 H1024" stroke="#fff" stroke-opacity="0.72" stroke-width="1.4" fill="none" clip-path="url(#clip3)"/>
<text y="745.3" font-size="21.6"><tspan x="208.8" fill="#34445f" textLength="144.5" lengthAdjust="spacingAndGlyphs">Personnes en</tspan> <tspan x="359.5" fill="#2a3f5f" font-weight="700" stroke="#2a3f5f" stroke-width="0.35" textLength="140.7" lengthAdjust="spacingAndGlyphs">réanimation</tspan> <tspan x="507.4" fill="#34445f" textLength="155.3" lengthAdjust="spacingAndGlyphs">pour Covid19 -</tspan> <tspan x="668.3" fill="#2a3f5f" font-weight="700" stroke="#2a3f5f" stroke-width="0.35" textLength="147.1" lengthAdjust="spacingAndGlyphs">Ile-de-France</tspan></text>
<text x="50.2" y="1287.6" font-size="20" text-anchor="middle" fill="#3c4558">0</text>
<text x="56.0" y="1195.5" font-size="20" text-anchor="end" fill="#3c4558" textLength="34.5" lengthAdjust="spacingAndGlyphs">500</text>
<text x="56.0" y="1103.5" font-size="20" text-anchor="end" fill="#3c4558" textLength="46.0" lengthAdjust="spacingAndGlyphs">1000</text>
<text x="56.0" y="1011.4" font-size="20" text-anchor="end" fill="#3c4558" textLength="46.0" lengthAdjust="spacingAndGlyphs">1500</text>
<text x="56.0" y="919.4" font-size="20" text-anchor="end" fill="#3c4558" textLength="46.0" lengthAdjust="spacingAndGlyphs">2000</text>
<text x="56.0" y="827.3" font-size="20" text-anchor="end" fill="#3c4558" textLength="46.0" lengthAdjust="spacingAndGlyphs">2500</text>
<path d="M57.0,1280.8 H1024" stroke="#73767c" stroke-width="2.2" fill="none"/>
<path d="M57.2,1226.5 L60.5,1210.0 L63.2,1199.0 L66.6,1180.0 L71.0,1162.2 L77.0,1110.1 L84.0,1050.1 L93.1,980.0 L102.1,916.2 L105.1,886.1 L108.1,858.1 L113.1,840.1 L120.1,820.1 L128.1,790.0 L132.1,792.0 L136.7,790.0 L139.1,799.0 L143.1,797.0 L150.1,802.1 L155.1,824.1 L164.1,858.1 L171.1,874.1 L176.1,894.1 L183.1,920.2 L188.1,930.2 L195.2,940.2 L200.2,958.2 L204.2,980.0 L209.2,991.0 L216.2,996.0 L221.2,1010.0 L229.2,1048.1 L232.2,1054.1 L242.2,1068.1 L255.2,1104.1 L263.2,1116.1 L267.2,1128.1 L273.2,1142.2 L283.2,1153.2 L288.2,1154.2 L306.3,1172.2 L314.3,1176.2 L326.3,1184.2 L333.3,1192.2 L350.3,1200.2 L366.3,1208.2 L370.3,1215.2 L390.3,1220.2 L412.4,1225.2 L420.0,1228.1 L440.0,1234.2 L460.0,1238.2 L486.1,1237.8 L500.1,1246.2 L516.1,1248.2 L540.1,1247.8 L568.1,1248.2 L590.2,1245.8 L598.2,1249.8 L606.2,1246.6 L611.2,1250.6 L622.2,1248.6 L644.2,1248.6 L652.2,1245.2 L672.2,1241.2 L682.3,1234.2 L690.3,1232.5 L693.3,1237.2 L702.3,1229.1 L706.3,1222.1 L718.3,1217.1 L722.3,1218.1 L734.3,1208.1 L745.3,1207.1 L750.3,1198.1 L762.3,1197.7 L772.3,1192.1 L776.3,1186.1 L783.4,1181.1 L786.4,1183.1 L798.4,1160.1 L808.4,1148.1 L814.4,1146.1 L820.4,1138.1 L825.9,1125.2 L832.7,1122.8 L834.6,1112.5 L838.6,1113.5 L843.4,1107.6 L849.3,1091.0 L862.0,1091.0 L865.9,1084.2 L871.8,1076.4 L875.7,1074.9 L879.6,1071.0 L886.4,1072.0 L892.3,1080.3 L899.1,1090.0 L903.0,1100.8 L909.8,1105.2 L917.7,1104.7 L920.6,1113.5 L927.4,1125.2 L932.3,1133.0 L938.2,1132.0 L943.0,1135.9 L947.9,1142.8 L953.8,1151.6 L958.7,1152.5 L964.8,1153.0 L964.8,1280.6 L57.2,1280.6 Z" fill="rgb(201,4,4)" fill-opacity="0.3" clip-path="url(#clip3)"/>
<path d="M768.1,1083.1 L964.8,1153.0" stroke="#a33a44" stroke-width="1.3" fill="none"/>
<path d="M57.2,1226.5 L60.5,1210.0 L63.2,1199.0 L66.6,1180.0 L71.0,1162.2 L77.0,1110.1 L84.0,1050.1 L93.1,980.0 L102.1,916.2 L105.1,886.1 L108.1,858.1 L113.1,840.1 L120.1,820.1 L128.1,790.0 L132.1,792.0 L136.7,790.0 L139.1,799.0 L143.1,797.0 L150.1,802.1 L155.1,824.1 L164.1,858.1 L171.1,874.1 L176.1,894.1 L183.1,920.2 L188.1,930.2 L195.2,940.2 L200.2,958.2 L204.2,980.0 L209.2,991.0 L216.2,996.0 L221.2,1010.0 L229.2,1048.1 L232.2,1054.1 L242.2,1068.1 L255.2,1104.1 L263.2,1116.1 L267.2,1128.1 L273.2,1142.2 L283.2,1153.2 L288.2,1154.2 L306.3,1172.2 L314.3,1176.2 L326.3,1184.2 L333.3,1192.2 L350.3,1200.2 L366.3,1208.2 L370.3,1215.2 L390.3,1220.2 L412.4,1225.2 L420.0,1228.1 L440.0,1234.2 L460.0,1238.2 L486.1,1237.8 L500.1,1246.2 L516.1,1248.2 L540.1,1247.8 L568.1,1248.2 L590.2,1245.8 L598.2,1249.8 L606.2,1246.6 L611.2,1250.6 L622.2,1248.6 L644.2,1248.6 L652.2,1245.2 L672.2,1241.2 L682.3,1234.2 L690.3,1232.5 L693.3,1237.2 L702.3,1229.1 L706.3,1222.1 L718.3,1217.1 L722.3,1218.1 L734.3,1208.1 L745.3,1207.1 L750.3,1198.1 L762.3,1197.7 L772.3,1192.1 L776.3,1186.1 L783.4,1181.1 L786.4,1183.1 L798.4,1160.1 L808.4,1148.1 L814.4,1146.1 L820.4,1138.1 L825.9,1125.2 L832.7,1122.8 L834.6,1112.5 L838.6,1113.5 L843.4,1107.6 L849.3,1091.0 L862.0,1091.0 L865.9,1084.2 L871.8,1076.4 L875.7,1074.9 L879.6,1071.0 L886.4,1072.0 L892.3,1080.3 L899.1,1090.0 L903.0,1100.8 L909.8,1105.2 L917.7,1104.7 L920.6,1113.5 L927.4,1125.2 L932.3,1133.0 L938.2,1132.0 L943.0,1135.9 L947.9,1142.8 L953.8,1151.6 L958.7,1152.5 L964.8,1153.0" stroke="rgb(210,8,10)" stroke-width="8.8" fill="none" stroke-linejoin="miter" stroke-miterlimit="2" clip-path="url(#clip3)"/>
<circle cx="964.8" cy="1153.0" r="8.2" fill="rgb(210,8,10)"/>
<path d="M58.11,1280.6 V1252.6 h3.44 V1280.6 Z M61.55,1280.6 V1264.4 h3.44 V1280.6 Z M64.99,1280.6 V1261.2 h3.44 V1280.6 Z M68.44,1280.6 V1257.3 h3.44 V1280.6 Z M71.88,1280.6 V1251.9 h3.44 V1280.6 Z M75.33,1280.6 V1237.0 h3.44 V1280.6 Z M78.77,1280.6 V1240.1 h3.44 V1280.6 Z M82.21,1280.6 V1240.1 h3.44 V1280.6 Z M85.66,1280.6 V1248.0 h3.44 V1280.6 Z M89.10,1280.6 V1236.2 h3.44 V1280.6 Z M92.55,1280.6 V1251.1 h3.44 V1280.6 Z M95.99,1280.6 V1245.6 h3.44 V1280.6 Z M99.43,1280.6 V1227.6 h3.44 V1280.6 Z M102.88,1280.6 V1224.2 h3.44 V1280.6 Z M106.32,1280.6 V1232.3 h3.44 V1280.6 Z M109.77,1280.6 V1233.1 h3.44 V1280.6 Z M113.21,1280.6 V1245.6 h3.44 V1280.6 Z M116.65,1280.6 V1252.6 h3.44 V1280.6 Z M120.10,1280.6 V1244.8 h3.44 V1280.6 Z M123.54,1280.6 V1238.6 h3.44 V1280.6 Z M126.99,1280.6 V1243.3 h3.44 V1280.6 Z M130.43,1280.6 V1249.5 h3.44 V1280.6 Z M133.87,1280.6 V1246.4 h3.44 V1280.6 Z M137.32,1280.6 V1258.9 h3.44 V1280.6 Z M140.76,1280.6 V1257.3 h3.44 V1280.6 Z M144.21,1280.6 V1262.0 h3.44 V1280.6 Z M147.65,1280.6 V1255.8 h3.44 V1280.6 Z M151.09,1280.6 V1257.3 h3.44 V1280.6 Z M154.54,1280.6 V1257.3 h3.44 V1280.6 Z M157.98,1280.6 V1262.8 h3.44 V1280.6 Z M161.43,1280.6 V1263.6 h3.44 V1280.6 Z M164.87,1280.6 V1273.0 h3.44 V1280.6 Z M168.31,1280.6 V1267.5 h3.44 V1280.6 Z M171.76,1280.6 V1265.1 h3.44 V1280.6 Z M175.20,1280.6 V1265.9 h3.44 V1280.6 Z M178.65,1280.6 V1267.5 h3.44 V1280.6 Z M182.09,1280.6 V1268.3 h3.44 V1280.6 Z M185.53,1280.6 V1269.8 h3.44 V1280.6 Z M188.98,1280.6 V1275.3 h3.44 V1280.6 Z M192.42,1280.6 V1270.6 h3.44 V1280.6 Z M195.87,1280.6 V1271.4 h3.44 V1280.6 Z M199.31,1280.6 V1272.2 h3.44 V1280.6 Z M202.75,1280.6 V1273.0 h3.44 V1280.6 Z M206.20,1280.6 V1276.1 h3.44 V1280.6 Z M209.64,1280.6 V1276.1 h3.44 V1280.6 Z M213.09,1280.6 V1273.7 h3.44 V1280.6 Z M216.53,1280.6 V1274.5 h3.44 V1280.6 Z M219.97,1280.6 V1274.5 h3.44 V1280.6 Z M223.42,1280.6 V1274.5 h3.44 V1280.6 Z M226.86,1280.6 V1275.3 h3.44 V1280.6 Z M230.31,1280.6 V1276.9 h3.44 V1280.6 Z M233.75,1280.6 V1277.6 h3.44 V1280.6 Z M237.19,1280.6 V1277.4 h3.44 V1280.6 Z M240.64,1280.6 V1274.2 h3.44 V1280.6 Z M244.08,1280.6 V1274.0 h3.44 V1280.6 Z M247.53,1280.6 V1274.4 h3.44 V1280.6 Z M250.97,1280.6 V1274.6 h3.44 V1280.6 Z M254.41,1280.6 V1274.8 h3.44 V1280.6 Z M257.86,1280.6 V1276.7 h3.44 V1280.6 Z M261.30,1280.6 V1278.1 h3.44 V1280.6 Z M264.75,1280.6 V1275.8 h3.44 V1280.6 Z M268.19,1280.6 V1275.7 h3.44 V1280.6 Z M271.63,1280.6 V1276.1 h3.44 V1280.6 Z M275.08,1280.6 V1276.3 h3.44 V1280.6 Z M278.52,1280.6 V1276.5 h3.44 V1280.6 Z M281.97,1280.6 V1278.3 h3.44 V1280.6 Z M285.41,1280.6 V1278.7 h3.44 V1280.6 Z M288.85,1280.6 V1277.3 h3.44 V1280.6 Z M292.30,1280.6 V1277.2 h3.44 V1280.6 Z M295.74,1280.6 V1277.4 h3.44 V1280.6 Z M299.19,1280.6 V1277.5 h3.44 V1280.6 Z M302.63,1280.6 V1277.6 h3.44 V1280.6 Z M306.07,1280.6 V1278.8 h3.44 V1280.6 Z M309.52,1280.6 V1279.0 h3.44 V1280.6 Z M312.96,1280.6 V1278.0 h3.44 V1280.6 Z M316.41,1280.6 V1277.9 h3.44 V1280.6 Z M319.85,1280.6 V1278.1 h3.44 V1280.6 Z M323.29,1280.6 V1278.1 h3.44 V1280.6 Z M326.74,1280.6 V1278.6 h3.44 V1280.6 Z M330.18,1280.6 V1279.0 h3.44 V1280.6 Z M333.63,1280.6 V1279.2 h3.44 V1280.6 Z M337.07,1280.6 V1278.3 h3.44 V1280.6 Z M340.51,1280.6 V1278.2 h3.44 V1280.6 Z M343.96,1280.6 V1278.3 h3.44 V1280.6 Z M347.40,1280.6 V1278.3 h3.44 V1280.6 Z M350.85,1280.6 V1278.7 h3.44 V1280.6 Z M354.29,1280.6 V1279.1 h3.44 V1280.6 Z M357.73,1280.6 V1279.3 h3.44 V1280.6 Z M361.18,1280.6 V1278.5 h3.44 V1280.6 Z M364.62,1280.6 V1278.4 h3.44 V1280.6 Z M368.07,1280.6 V1278.4 h3.44 V1280.6 Z M371.51,1280.6 V1278.8 h3.44 V1280.6 Z M374.95,1280.6 V1278.7 h3.44 V1280.6 Z M378.40,1280.6 V1279.1 h3.44 V1280.6 Z M381.84,1280.6 V1279.2 h3.44 V1280.6 Z M385.29,1280.6 V1278.4 h3.44 V1280.6 Z M388.73,1280.6 V1278.3 h3.44 V1280.6 Z M392.17,1280.6 V1278.4 h3.44 V1280.6 Z M395.62,1280.6 V1278.7 h3.44 V1280.6 Z M399.06,1280.6 V1278.7 h3.44 V1280.6 Z M402.51,1280.6 V1279.1 h3.44 V1280.6 Z M405.95,1280.6 V1279.2 h3.44 V1280.6 Z M409.39,1280.6 V1278.4 h3.44 V1280.6 Z M412.84,1280.6 V1278.2 h3.44 V1280.6 Z M416.28,1280.6 V1278.7 h3.44 V1280.6 Z M419.73,1280.6 V1278.6 h3.44 V1280.6 Z M423.17,1280.6 V1278.6 h3.44 V1280.6 Z M426.61,1280.6 V1279.0 h3.44 V1280.6 Z M430.06,1280.6 V1279.2 h3.44 V1280.6 Z M433.50,1280.6 V1278.3 h3.44 V1280.6 Z M436.95,1280.6 V1278.1 h3.44 V1280.6 Z M440.39,1280.6 V1278.6 h3.44 V1280.6 Z M443.83,1280.6 V1278.6 h3.44 V1280.6 Z M447.28,1280.6 V1278.5 h3.44 V1280.6 Z M450.72,1280.6 V1279.0 h3.44 V1280.6 Z M454.17,1280.6 V1279.1 h3.44 V1280.6 Z M457.61,1280.6 V1278.2 h3.44 V1280.6 Z M461.05,1280.6 V1278.5 h3.44 V1280.6 Z M464.50,1280.6 V1278.5 h3.44 V1280.6 Z M467.94,1280.6 V1278.5 h3.44 V1280.6 Z M471.39,1280.6 V1278.4 h3.44 V1280.6 Z M474.83,1280.6 V1278.9 h3.44 V1280.6 Z M478.27,1280.6 V1279.1 h3.44 V1280.6 Z M481.72,1280.6 V1278.1 h3.44 V1280.6 Z M485.16,1280.6 V1278.4 h3.44 V1280.6 Z M488.61,1280.6 V1278.4 h3.44 V1280.6 Z M492.05,1280.6 V1278.4 h3.44 V1280.6 Z M495.49,1280.6 V1278.4 h3.44 V1280.6 Z M498.94,1280.6 V1278.9 h3.44 V1280.6 Z M502.38,1280.6 V1279.0 h3.44 V1280.6 Z M505.83,1280.6 V1278.4 h3.44 V1280.6 Z M509.27,1280.6 V1278.3 h3.44 V1280.6 Z M512.71,1280.6 V1278.3 h3.44 V1280.6 Z M516.16,1280.6 V1278.2 h3.44 V1280.6 Z M519.60,1280.6 V1278.2 h3.44 V1280.6 Z M523.05,1280.6 V1278.7 h3.44 V1280.6 Z M526.49,1280.6 V1279.0 h3.44 V1280.6 Z M529.93,1280.6 V1278.2 h3.44 V1280.6 Z M533.38,1280.6 V1278.1 h3.44 V1280.6 Z M536.82,1280.6 V1278.1 h3.44 V1280.6 Z M540.27,1280.6 V1278.1 h3.44 V1280.6 Z M543.71,1280.6 V1278.0 h3.44 V1280.6 Z M547.15,1280.6 V1278.6 h3.44 V1280.6 Z M550.60,1280.6 V1279.1 h3.44 V1280.6 Z M554.04,1280.6 V1278.1 h3.44 V1280.6 Z M557.49,1280.6 V1277.9 h3.44 V1280.6 Z M560.93,1280.6 V1277.9 h3.44 V1280.6 Z M564.37,1280.6 V1277.9 h3.44 V1280.6 Z M567.82,1280.6 V1277.9 h3.44 V1280.6 Z M571.26,1280.6 V1278.5 h3.44 V1280.6 Z M574.71,1280.6 V1279.0 h3.44 V1280.6 Z M578.15,1280.6 V1277.9 h3.44 V1280.6 Z M581.59,1280.6 V1277.7 h3.44 V1280.6 Z M585.04,1280.6 V1277.7 h3.44 V1280.6 Z M588.48,1280.6 V1277.7 h3.44 V1280.6 Z M591.93,1280.6 V1277.7 h3.44 V1280.6 Z M595.37,1280.6 V1278.7 h3.44 V1280.6 Z M598.81,1280.6 V1278.9 h3.44 V1280.6 Z M602.26,1280.6 V1277.6 h3.44 V1280.6 Z M605.70,1280.6 V1277.3 h3.44 V1280.6 Z M609.15,1280.6 V1277.3 h3.44 V1280.6 Z M612.59,1280.6 V1277.2 h3.44 V1280.6 Z M616.03,1280.6 V1277.0 h3.44 V1280.6 Z M619.48,1280.6 V1278.4 h3.44 V1280.6 Z M622.92,1280.6 V1278.6 h3.44 V1280.6 Z M626.37,1280.6 V1276.8 h3.44 V1280.6 Z M629.81,1280.6 V1276.5 h3.44 V1280.6 Z M633.25,1280.6 V1276.5 h3.44 V1280.6 Z M636.70,1280.6 V1276.3 h3.44 V1280.6 Z M640.14,1280.6 V1277.1 h3.44 V1280.6 Z M643.59,1280.6 V1278.0 h3.44 V1280.6 Z M647.03,1280.6 V1278.3 h3.44 V1280.6 Z M650.47,1280.6 V1275.9 h3.44 V1280.6 Z M653.92,1280.6 V1275.4 h3.44 V1280.6 Z M657.36,1280.6 V1275.3 h3.44 V1280.6 Z M660.81,1280.6 V1275.0 h3.44 V1280.6 Z M664.25,1280.6 V1276.0 h3.44 V1280.6 Z M667.69,1280.6 V1277.1 h3.44 V1280.6 Z M671.14,1280.6 V1277.6 h3.44 V1280.6 Z M674.58,1280.6 V1274.2 h3.44 V1280.6 Z M678.03,1280.6 V1273.5 h3.44 V1280.6 Z M681.47,1280.6 V1273.5 h3.44 V1280.6 Z M684.91,1280.6 V1274.9 h3.44 V1280.6 Z M688.36,1280.6 V1274.6 h3.44 V1280.6 Z M691.80,1280.6 V1276.2 h3.44 V1280.6 Z M695.25,1280.6 V1276.9 h3.44 V1280.6 Z M698.69,1280.6 V1272.4 h3.44 V1280.6 Z M702.13,1280.6 V1271.6 h3.44 V1280.6 Z M705.58,1280.6 V1271.6 h3.44 V1280.6 Z M709.02,1280.6 V1273.5 h3.44 V1280.6 Z M712.47,1280.6 V1273.2 h3.44 V1280.6 Z M715.91,1280.6 V1275.3 h3.44 V1280.6 Z M719.35,1280.6 V1276.2 h3.44 V1280.6 Z M722.80,1280.6 V1270.8 h3.44 V1280.6 Z M726.24,1280.6 V1269.9 h3.44 V1280.6 Z M729.69,1280.6 V1272.7 h3.44 V1280.6 Z M733.13,1280.6 V1272.6 h3.44 V1280.6 Z M736.57,1280.6 V1272.5 h3.44 V1280.6 Z M740.02,1280.6 V1275.0 h3.44 V1280.6 Z M743.46,1280.6 V1276.1 h3.44 V1280.6 Z M746.91,1280.6 V1270.8 h3.44 V1280.6 Z M750.35,1280.6 V1270.1 h3.44 V1280.6 Z M753.79,1280.6 V1272.6 h3.44 V1280.6 Z M757.24,1280.6 V1272.4 h3.44 V1280.6 Z M760.68,1280.6 V1272.1 h3.44 V1280.6 Z M764.13,1280.6 V1274.7 h3.44 V1280.6 Z M767.57,1280.6 V1275.7 h3.44 V1280.6 Z M771.01,1280.6 V1269.6 h3.44 V1280.6 Z M774.46,1280.6 V1271.2 h3.44 V1280.6 Z M777.90,1280.6 V1271.0 h3.44 V1280.6 Z M781.35,1280.6 V1270.6 h3.44 V1280.6 Z M784.79,1280.6 V1270.0 h3.44 V1280.6 Z M788.23,1280.6 V1273.0 h3.44 V1280.6 Z M791.68,1280.6 V1274.0 h3.44 V1280.6 Z M795.12,1280.6 V1264.8 h3.44 V1280.6 Z M798.57,1280.6 V1267.0 h3.44 V1280.6 Z M802.01,1280.6 V1266.8 h3.44 V1280.6 Z M805.45,1280.6 V1266.3 h3.44 V1280.6 Z M808.90,1280.6 V1265.6 h3.44 V1280.6 Z M812.34,1280.6 V1270.2 h3.44 V1280.6 Z M815.79,1280.6 V1271.9 h3.44 V1280.6 Z M819.23,1280.6 V1265.1 h3.44 V1280.6 Z M822.67,1280.6 V1263.2 h3.44 V1280.6 Z M826.12,1280.6 V1263.3 h3.44 V1280.6 Z M829.56,1280.6 V1262.9 h3.44 V1280.6 Z M833.01,1280.6 V1262.4 h3.44 V1280.6 Z M836.45,1280.6 V1268.2 h3.44 V1280.6 Z M839.89,1280.6 V1270.4 h3.44 V1280.6 Z M843.34,1280.6 V1262.4 h3.44 V1280.6 Z M846.78,1280.6 V1260.4 h3.44 V1280.6 Z M850.23,1280.6 V1260.7 h3.44 V1280.6 Z M853.67,1280.6 V1260.8 h3.44 V1280.6 Z M857.11,1280.6 V1260.9 h3.44 V1280.6 Z M860.56,1280.6 V1267.4 h3.44 V1280.6 Z M864.00,1280.6 V1272.4 h3.44 V1280.6 Z M867.45,1280.6 V1261.4 h3.44 V1280.6 Z M870.89,1280.6 V1259.9 h3.44 V1280.6 Z M874.33,1280.6 V1260.9 h3.44 V1280.6 Z M877.78,1280.6 V1261.4 h3.44 V1280.6 Z M881.22,1280.6 V1261.7 h3.44 V1280.6 Z M884.67,1280.6 V1268.5 h3.44 V1280.6 Z M888.11,1280.6 V1273.4 h3.44 V1280.6 Z M891.55,1280.6 V1264.8 h3.44 V1280.6 Z M895.00,1280.6 V1264.3 h3.44 V1280.6 Z M898.44,1280.6 V1265.3 h3.44 V1280.6 Z M901.89,1280.6 V1265.6 h3.44 V1280.6 Z M905.33,1280.6 V1265.9 h3.44 V1280.6 Z M908.77,1280.6 V1273.2 h3.44 V1280.6 Z M912.22,1280.6 V1274.7 h3.44 V1280.6 Z M915.66,1280.6 V1267.9 h3.44 V1280.6 Z M919.11,1280.6 V1267.6 h3.44 V1280.6 Z M922.55,1280.6 V1268.5 h3.44 V1280.6 Z M925.99,1280.6 V1269.1 h3.44 V1280.6 Z M929.44,1280.6 V1269.6 h3.44 V1280.6 Z M932.88,1280.6 V1275.1 h3.44 V1280.6 Z M936.33,1280.6 V1276.3 h3.44 V1280.6 Z M939.77,1280.6 V1271.8 h3.44 V1280.6 Z M943.21,1280.6 V1271.7 h3.44 V1280.6 Z M946.66,1280.6 V1272.0 h3.44 V1280.6 Z M950.10,1280.6 V1272.0 h3.44 V1280.6 Z M953.55,1280.6 V1274.0 h3.44 V1280.6 Z M956.99,1280.6 V1276.0 h3.44 V1280.6 Z M960.43,1280.6 V1276.8 h3.44 V1280.6 Z M963.88,1280.6 V1272.5 h3.44 V1280.6 Z" fill="rgb(250,152,156)" fill-opacity="0.8" clip-path="url(#clip3)"/>
<path d="M58.98,1280.6 V1253.4 h1.7 V1280.6 Z M62.42,1280.6 V1265.2 h1.7 V1280.6 Z M65.87,1280.6 V1262.0 h1.7 V1280.6 Z M69.31,1280.6 V1258.1 h1.7 V1280.6 Z M72.75,1280.6 V1252.7 h1.7 V1280.6 Z M76.20,1280.6 V1237.8 h1.7 V1280.6 Z M79.64,1280.6 V1240.9 h1.7 V1280.6 Z M83.09,1280.6 V1240.9 h1.7 V1280.6 Z M86.53,1280.6 V1248.8 h1.7 V1280.6 Z M89.97,1280.6 V1237.0 h1.7 V1280.6 Z M93.42,1280.6 V1251.9 h1.7 V1280.6 Z M96.86,1280.6 V1246.4 h1.7 V1280.6 Z M100.31,1280.6 V1228.4 h1.7 V1280.6 Z M103.75,1280.6 V1225.0 h1.7 V1280.6 Z M107.19,1280.6 V1233.1 h1.7 V1280.6 Z M110.64,1280.6 V1233.9 h1.7 V1280.6 Z M114.08,1280.6 V1246.4 h1.7 V1280.6 Z M117.53,1280.6 V1253.4 h1.7 V1280.6 Z M120.97,1280.6 V1245.6 h1.7 V1280.6 Z M124.41,1280.6 V1239.4 h1.7 V1280.6 Z M127.86,1280.6 V1244.1 h1.7 V1280.6 Z M131.30,1280.6 V1250.3 h1.7 V1280.6 Z M134.75,1280.6 V1247.2 h1.7 V1280.6 Z M138.19,1280.6 V1259.7 h1.7 V1280.6 Z M141.63,1280.6 V1258.1 h1.7 V1280.6 Z M145.08,1280.6 V1262.8 h1.7 V1280.6 Z M148.52,1280.6 V1256.6 h1.7 V1280.6 Z M151.97,1280.6 V1258.1 h1.7 V1280.6 Z M155.41,1280.6 V1258.1 h1.7 V1280.6 Z M158.85,1280.6 V1263.6 h1.7 V1280.6 Z M162.30,1280.6 V1264.4 h1.7 V1280.6 Z M165.74,1280.6 V1273.8 h1.7 V1280.6 Z M169.19,1280.6 V1268.3 h1.7 V1280.6 Z M172.63,1280.6 V1265.9 h1.7 V1280.6 Z M176.07,1280.6 V1266.7 h1.7 V1280.6 Z M179.52,1280.6 V1268.3 h1.7 V1280.6 Z M182.96,1280.6 V1269.1 h1.7 V1280.6 Z M186.41,1280.6 V1270.6 h1.7 V1280.6 Z M189.85,1280.6 V1276.1 h1.7 V1280.6 Z M193.29,1280.6 V1271.4 h1.7 V1280.6 Z M196.74,1280.6 V1272.2 h1.7 V1280.6 Z M200.18,1280.6 V1273.0 h1.7 V1280.6 Z M203.63,1280.6 V1273.8 h1.7 V1280.6 Z M207.07,1280.6 V1276.9 h1.7 V1280.6 Z M210.51,1280.6 V1276.9 h1.7 V1280.6 Z M213.96,1280.6 V1274.5 h1.7 V1280.6 Z M217.40,1280.6 V1275.3 h1.7 V1280.6 Z M220.85,1280.6 V1275.3 h1.7 V1280.6 Z M224.29,1280.6 V1275.3 h1.7 V1280.6 Z M227.73,1280.6 V1276.1 h1.7 V1280.6 Z M231.18,1280.6 V1277.7 h1.7 V1280.6 Z M234.62,1280.6 V1278.4 h1.7 V1280.6 Z M238.07,1280.6 V1278.2 h1.7 V1280.6 Z M241.51,1280.6 V1275.0 h1.7 V1280.6 Z M244.95,1280.6 V1274.8 h1.7 V1280.6 Z M248.40,1280.6 V1275.2 h1.7 V1280.6 Z M251.84,1280.6 V1275.4 h1.7 V1280.6 Z M255.29,1280.6 V1275.6 h1.7 V1280.6 Z M258.73,1280.6 V1277.5 h1.7 V1280.6 Z M262.17,1280.6 V1278.9 h1.7 V1280.6 Z M265.62,1280.6 V1276.6 h1.7 V1280.6 Z M269.06,1280.6 V1276.5 h1.7 V1280.6 Z M272.51,1280.6 V1276.9 h1.7 V1280.6 Z M275.95,1280.6 V1277.1 h1.7 V1280.6 Z M279.39,1280.6 V1277.3 h1.7 V1280.6 Z M282.84,1280.6 V1279.1 h1.7 V1280.6 Z M286.28,1280.6 V1279.5 h1.7 V1280.6 Z M289.73,1280.6 V1278.1 h1.7 V1280.6 Z M293.17,1280.6 V1278.0 h1.7 V1280.6 Z M296.61,1280.6 V1278.2 h1.7 V1280.6 Z M300.06,1280.6 V1278.3 h1.7 V1280.6 Z M303.50,1280.6 V1278.4 h1.7 V1280.6 Z M306.95,1280.6 V1279.6 h1.7 V1280.6 Z M310.39,1280.6 V1279.8 h1.7 V1280.6 Z M313.83,1280.6 V1278.8 h1.7 V1280.6 Z M317.28,1280.6 V1278.7 h1.7 V1280.6 Z M320.72,1280.6 V1278.9 h1.7 V1280.6 Z M324.17,1280.6 V1278.9 h1.7 V1280.6 Z M327.61,1280.6 V1279.4 h1.7 V1280.6 Z M331.05,1280.6 V1279.8 h1.7 V1280.6 Z M334.50,1280.6 V1280.0 h1.7 V1280.6 Z M337.94,1280.6 V1279.1 h1.7 V1280.6 Z M341.39,1280.6 V1279.0 h1.7 V1280.6 Z M344.83,1280.6 V1279.1 h1.7 V1280.6 Z M348.27,1280.6 V1279.1 h1.7 V1280.6 Z M351.72,1280.6 V1279.5 h1.7 V1280.6 Z M355.16,1280.6 V1279.9 h1.7 V1280.6 Z M358.61,1280.6 V1280.1 h1.7 V1280.6 Z M362.05,1280.6 V1279.3 h1.7 V1280.6 Z M365.49,1280.6 V1279.2 h1.7 V1280.6 Z M368.94,1280.6 V1279.2 h1.7 V1280.6 Z M372.38,1280.6 V1279.6 h1.7 V1280.6 Z M375.83,1280.6 V1279.5 h1.7 V1280.6 Z M379.27,1280.6 V1279.9 h1.7 V1280.6 Z M382.71,1280.6 V1280.0 h1.7 V1280.6 Z M386.16,1280.6 V1279.2 h1.7 V1280.6 Z M389.60,1280.6 V1279.1 h1.7 V1280.6 Z M393.05,1280.6 V1279.2 h1.7 V1280.6 Z M396.49,1280.6 V1279.5 h1.7 V1280.6 Z M399.93,1280.6 V1279.5 h1.7 V1280.6 Z M403.38,1280.6 V1279.9 h1.7 V1280.6 Z M406.82,1280.6 V1280.0 h1.7 V1280.6 Z M410.27,1280.6 V1279.2 h1.7 V1280.6 Z M413.71,1280.6 V1279.0 h1.7 V1280.6 Z M417.15,1280.6 V1279.5 h1.7 V1280.6 Z M420.60,1280.6 V1279.4 h1.7 V1280.6 Z M424.04,1280.6 V1279.4 h1.7 V1280.6 Z M427.49,1280.6 V1279.8 h1.7 V1280.6 Z M430.93,1280.6 V1280.0 h1.7 V1280.6 Z M434.37,1280.6 V1279.1 h1.7 V1280.6 Z M437.82,1280.6 V1278.9 h1.7 V1280.6 Z M441.26,1280.6 V1279.4 h1.7 V1280.6 Z M444.71,1280.6 V1279.4 h1.7 V1280.6 Z M448.15,1280.6 V1279.3 h1.7 V1280.6 Z M451.59,1280.6 V1279.8 h1.7 V1280.6 Z M455.04,1280.6 V1279.9 h1.7 V1280.6 Z M458.48,1280.6 V1279.0 h1.7 V1280.6 Z M461.93,1280.6 V1279.3 h1.7 V1280.6 Z M465.37,1280.6 V1279.3 h1.7 V1280.6 Z M468.81,1280.6 V1279.3 h1.7 V1280.6 Z M472.26,1280.6 V1279.2 h1.7 V1280.6 Z M475.70,1280.6 V1279.7 h1.7 V1280.6 Z M479.15,1280.6 V1279.9 h1.7 V1280.6 Z M482.59,1280.6 V1278.9 h1.7 V1280.6 Z M486.03,1280.6 V1279.2 h1.7 V1280.6 Z M489.48,1280.6 V1279.2 h1.7 V1280.6 Z M492.92,1280.6 V1279.2 h1.7 V1280.6 Z M496.37,1280.6 V1279.2 h1.7 V1280.6 Z M499.81,1280.6 V1279.7 h1.7 V1280.6 Z M503.25,1280.6 V1279.8 h1.7 V1280.6 Z M506.70,1280.6 V1279.2 h1.7 V1280.6 Z M510.14,1280.6 V1279.1 h1.7 V1280.6 Z M513.59,1280.6 V1279.1 h1.7 V1280.6 Z M517.03,1280.6 V1279.0 h1.7 V1280.6 Z M520.47,1280.6 V1279.0 h1.7 V1280.6 Z M523.92,1280.6 V1279.5 h1.7 V1280.6 Z M527.36,1280.6 V1279.8 h1.7 V1280.6 Z M530.81,1280.6 V1279.0 h1.7 V1280.6 Z M534.25,1280.6 V1278.9 h1.7 V1280.6 Z M537.69,1280.6 V1278.9 h1.7 V1280.6 Z M541.14,1280.6 V1278.9 h1.7 V1280.6 Z M544.58,1280.6 V1278.8 h1.7 V1280.6 Z M548.03,1280.6 V1279.4 h1.7 V1280.6 Z M551.47,1280.6 V1279.9 h1.7 V1280.6 Z M554.91,1280.6 V1278.9 h1.7 V1280.6 Z M558.36,1280.6 V1278.7 h1.7 V1280.6 Z M561.80,1280.6 V1278.7 h1.7 V1280.6 Z M565.25,1280.6 V1278.7 h1.7 V1280.6 Z M568.69,1280.6 V1278.7 h1.7 V1280.6 Z M572.13,1280.6 V1279.3 h1.7 V1280.6 Z M575.58,1280.6 V1279.8 h1.7 V1280.6 Z M579.02,1280.6 V1278.7 h1.7 V1280.6 Z M582.47,1280.6 V1278.5 h1.7 V1280.6 Z M585.91,1280.6 V1278.5 h1.7 V1280.6 Z M589.35,1280.6 V1278.5 h1.7 V1280.6 Z M592.80,1280.6 V1278.5 h1.7 V1280.6 Z M596.24,1280.6 V1279.5 h1.7 V1280.6 Z M599.69,1280.6 V1279.7 h1.7 V1280.6 Z M603.13,1280.6 V1278.4 h1.7 V1280.6 Z M606.57,1280.6 V1278.1 h1.7 V1280.6 Z M610.02,1280.6 V1278.1 h1.7 V1280.6 Z M613.46,1280.6 V1278.0 h1.7 V1280.6 Z M616.91,1280.6 V1277.8 h1.7 V1280.6 Z M620.35,1280.6 V1279.2 h1.7 V1280.6 Z M623.79,1280.6 V1279.4 h1.7 V1280.6 Z M627.24,1280.6 V1277.6 h1.7 V1280.6 Z M630.68,1280.6 V1277.3 h1.7 V1280.6 Z M634.13,1280.6 V1277.3 h1.7 V1280.6 Z M637.57,1280.6 V1277.1 h1.7 V1280.6 Z M641.01,1280.6 V1277.9 h1.7 V1280.6 Z M644.46,1280.6 V1278.8 h1.7 V1280.6 Z M647.90,1280.6 V1279.1 h1.7 V1280.6 Z M651.35,1280.6 V1276.7 h1.7 V1280.6 Z M654.79,1280.6 V1276.2 h1.7 V1280.6 Z M658.23,1280.6 V1276.1 h1.7 V1280.6 Z M661.68,1280.6 V1275.8 h1.7 V1280.6 Z M665.12,1280.6 V1276.8 h1.7 V1280.6 Z M668.57,1280.6 V1277.9 h1.7 V1280.6 Z M672.01,1280.6 V1278.4 h1.7 V1280.6 Z M675.45,1280.6 V1275.0 h1.7 V1280.6 Z M678.90,1280.6 V1274.3 h1.7 V1280.6 Z M682.34,1280.6 V1274.3 h1.7 V1280.6 Z M685.79,1280.6 V1275.7 h1.7 V1280.6 Z M689.23,1280.6 V1275.4 h1.7 V1280.6 Z M692.67,1280.6 V1277.0 h1.7 V1280.6 Z M696.12,1280.6 V1277.7 h1.7 V1280.6 Z M699.56,1280.6 V1273.2 h1.7 V1280.6 Z M703.01,1280.6 V1272.4 h1.7 V1280.6 Z M706.45,1280.6 V1272.4 h1.7 V1280.6 Z M709.89,1280.6 V1274.3 h1.7 V1280.6 Z M713.34,1280.6 V1274.0 h1.7 V1280.6 Z M716.78,1280.6 V1276.1 h1.7 V1280.6 Z M720.23,1280.6 V1277.0 h1.7 V1280.6 Z M723.67,1280.6 V1271.6 h1.7 V1280.6 Z M727.11,1280.6 V1270.7 h1.7 V1280.6 Z M730.56,1280.6 V1273.5 h1.7 V1280.6 Z M734.00,1280.6 V1273.4 h1.7 V1280.6 Z M737.45,1280.6 V1273.3 h1.7 V1280.6 Z M740.89,1280.6 V1275.8 h1.7 V1280.6 Z M744.33,1280.6 V1276.9 h1.7 V1280.6 Z M747.78,1280.6 V1271.6 h1.7 V1280.6 Z M751.22,1280.6 V1270.9 h1.7 V1280.6 Z M754.67,1280.6 V1273.4 h1.7 V1280.6 Z M758.11,1280.6 V1273.2 h1.7 V1280.6 Z M761.55,1280.6 V1272.9 h1.7 V1280.6 Z M765.00,1280.6 V1275.5 h1.7 V1280.6 Z M768.44,1280.6 V1276.5 h1.7 V1280.6 Z M771.89,1280.6 V1270.4 h1.7 V1280.6 Z M775.33,1280.6 V1272.0 h1.7 V1280.6 Z M778.77,1280.6 V1271.8 h1.7 V1280.6 Z M782.22,1280.6 V1271.4 h1.7 V1280.6 Z M785.66,1280.6 V1270.8 h1.7 V1280.6 Z M789.11,1280.6 V1273.8 h1.7 V1280.6 Z M792.55,1280.6 V1274.8 h1.7 V1280.6 Z M795.99,1280.6 V1265.6 h1.7 V1280.6 Z M799.44,1280.6 V1267.8 h1.7 V1280.6 Z M802.88,1280.6 V1267.6 h1.7 V1280.6 Z M806.33,1280.6 V1267.1 h1.7 V1280.6 Z M809.77,1280.6 V1266.4 h1.7 V1280.6 Z M813.21,1280.6 V1271.0 h1.7 V1280.6 Z M816.66,1280.6 V1272.7 h1.7 V1280.6 Z M820.10,1280.6 V1265.9 h1.7 V1280.6 Z M823.55,1280.6 V1264.0 h1.7 V1280.6 Z M826.99,1280.6 V1264.1 h1.7 V1280.6 Z M830.43,1280.6 V1263.7 h1.7 V1280.6 Z M833.88,1280.6 V1263.2 h1.7 V1280.6 Z M837.32,1280.6 V1269.0 h1.7 V1280.6 Z M840.77,1280.6 V1271.2 h1.7 V1280.6 Z M844.21,1280.6 V1263.2 h1.7 V1280.6 Z M847.65,1280.6 V1261.2 h1.7 V1280.6 Z M851.10,1280.6 V1261.5 h1.7 V1280.6 Z M854.54,1280.6 V1261.6 h1.7 V1280.6 Z M857.99,1280.6 V1261.7 h1.7 V1280.6 Z M861.43,1280.6 V1268.2 h1.7 V1280.6 Z M864.87,1280.6 V1273.2 h1.7 V1280.6 Z M868.32,1280.6 V1262.2 h1.7 V1280.6 Z M871.76,1280.6 V1260.7 h1.7 V1280.6 Z M875.21,1280.6 V1261.7 h1.7 V1280.6 Z M878.65,1280.6 V1262.2 h1.7 V1280.6 Z M882.09,1280.6 V1262.5 h1.7 V1280.6 Z M885.54,1280.6 V1269.3 h1.7 V1280.6 Z M888.98,1280.6 V1274.2 h1.7 V1280.6 Z M892.43,1280.6 V1265.6 h1.7 V1280.6 Z M895.87,1280.6 V1265.1 h1.7 V1280.6 Z M899.31,1280.6 V1266.1 h1.7 V1280.6 Z M902.76,1280.6 V1266.4 h1.7 V1280.6 Z M906.20,1280.6 V1266.7 h1.7 V1280.6 Z M909.65,1280.6 V1274.0 h1.7 V1280.6 Z M913.09,1280.6 V1275.5 h1.7 V1280.6 Z M916.53,1280.6 V1268.7 h1.7 V1280.6 Z M919.98,1280.6 V1268.4 h1.7 V1280.6 Z M923.42,1280.6 V1269.3 h1.7 V1280.6 Z M926.87,1280.6 V1269.9 h1.7 V1280.6 Z M930.31,1280.6 V1270.4 h1.7 V1280.6 Z M933.75,1280.6 V1275.9 h1.7 V1280.6 Z M937.20,1280.6 V1277.1 h1.7 V1280.6 Z M940.64,1280.6 V1272.6 h1.7 V1280.6 Z M944.09,1280.6 V1272.5 h1.7 V1280.6 Z M947.53,1280.6 V1272.8 h1.7 V1280.6 Z M950.97,1280.6 V1272.8 h1.7 V1280.6 Z M954.42,1280.6 V1274.8 h1.7 V1280.6 Z M957.86,1280.6 V1276.8 h1.7 V1280.6 Z M961.31,1280.6 V1277.6 h1.7 V1280.6 Z M964.75,1280.6 V1273.3 h1.7 V1280.6 Z" fill="rgb(202,28,36)" fill-opacity="0.85" clip-path="url(#clip3)"/>
<path d="M80.6,1252.2 L91.6,1245.6 L102.5,1240.9 L111.9,1236.2 L118.1,1237.8 L125.2,1238.1 L133.8,1244.1 L143.1,1248.0 L152.5,1254.2 L161.9,1258.9 L172.8,1264.4 L183.8,1267.8 L196.2,1270.3 L211.9,1273.8 L235.3,1275.0 L258.8,1276.6 L290.0,1278.4 L321.2,1279.2 L360.0,1279.5 L400.0,1279.5 L500.0,1279.3 L600.0,1278.8 L650.0,1277.5 L704.0,1274.5 L727.4,1273.4 L750.9,1273.8 L772.8,1273.0 L788.4,1271.4 L799.3,1269.1 L813.4,1267.5 L824.3,1265.9 L836.8,1265.2 L850.9,1263.6 L860.2,1264.4 L871.2,1263.6 L882.1,1265.2 L899.3,1268.3 L914.9,1269.8 L930.6,1272.2 L944.6,1274.2 L964.2,1274.5" stroke="rgb(200,16,22)" stroke-width="1.9" fill="none" stroke-linejoin="round" clip-path="url(#clip3)"/>
<text x="104.6" y="1329.6" font-size="20.5" text-anchor="middle" fill="#3c4558" textLength="54.8" lengthAdjust="spacingAndGlyphs">01/04</text>
<text x="207.9" y="1329.6" font-size="20.5" text-anchor="middle" fill="#3c4558" textLength="54.8" lengthAdjust="spacingAndGlyphs">01/05</text>
<text x="314.7" y="1329.6" font-size="20.5" text-anchor="middle" fill="#3c4558" textLength="54.8" lengthAdjust="spacingAndGlyphs">01/06</text>
<text x="418.0" y="1329.6" font-size="20.5" text-anchor="middle" fill="#3c4558" textLength="54.8" lengthAdjust="spacingAndGlyphs">01/07</text>
<text x="524.8" y="1329.6" font-size="20.5" text-anchor="middle" fill="#3c4558" textLength="54.8" lengthAdjust="spacingAndGlyphs">01/08</text>
<text x="631.5" y="1329.6" font-size="20.5" text-anchor="middle" fill="#3c4558" textLength="54.8" lengthAdjust="spacingAndGlyphs">01/09</text>
<text x="734.9" y="1329.6" font-size="20.5" text-anchor="middle" fill="#3c4558" textLength="54.8" lengthAdjust="spacingAndGlyphs">01/10</text>
<text x="841.6" y="1329.6" font-size="20.5" text-anchor="middle" fill="#3c4558" textLength="54.8" lengthAdjust="spacingAndGlyphs">01/11</text>
<text x="944.9" y="1329.6" font-size="20.5" text-anchor="middle" fill="#3c4558" textLength="54.8" lengthAdjust="spacingAndGlyphs">01/12</text>
<path d="M104.6,1302.0 V1307.6 M207.9,1302.0 V1307.6 M314.7,1302.0 V1307.6 M418.0,1302.0 V1307.6 M524.8,1302.0 V1307.6 M631.5,1302.0 V1307.6 M734.9,1302.0 V1307.6 M841.6,1302.0 V1307.6 M944.9,1302.0 V1307.6" stroke="#4a4d55" stroke-width="1.3" fill="none"/>
<text y="782.9" font-size="17.3"><tspan x="58.8" fill="#34445f" textLength="19.8" lengthAdjust="spacingAndGlyphs">07</tspan> <tspan x="82.8" fill="#34445f" textLength="34.8" lengthAdjust="spacingAndGlyphs">Dec.</tspan> <tspan x="122.2" fill="#34445f" textLength="70.6" lengthAdjust="spacingAndGlyphs">Données</tspan> <tspan x="196.8" fill="#34445f">:</tspan> <tspan x="206.2" fill="#34445f" textLength="44.2" lengthAdjust="spacingAndGlyphs">Santé</tspan> <tspan x="256.0" fill="#34445f" textLength="70.2" lengthAdjust="spacingAndGlyphs">publique</tspan> <tspan x="330.8" fill="#34445f" textLength="57.4" lengthAdjust="spacingAndGlyphs">France.</tspan> <tspan x="393.2" fill="#2a3f5f" font-weight="700" stroke="#2a3f5f" stroke-width="0.35" textLength="155.6" lengthAdjust="spacingAndGlyphs">@GuillaumeRozier</tspan> <tspan x="553.9" fill="#2a3f5f" font-weight="700" stroke="#2a3f5f" stroke-width="0.35">-</tspan> <tspan x="563.6" fill="#2a3f5f" font-weight="700" stroke="#2a3f5f" stroke-width="0.35" textLength="127.1" lengthAdjust="spacingAndGlyphs">covidtracker.fr</tspan></text>
<rect x="588.5" y="1005.2" width="179.2" height="91.4" fill="#fff" fill-opacity="0.6"/>
<text x="681.0" y="1029.3" font-size="21" text-anchor="middle" fill="#b9323c" font-weight="700" stroke="#b9323c" stroke-width="0.35" textLength="163.6" lengthAdjust="spacingAndGlyphs">694 personnes</text>
<text x="678.1" y="1058.7" font-size="21" text-anchor="middle" fill="#b9323c" font-weight="700" stroke="#b9323c" stroke-width="0.35" textLength="175.3" lengthAdjust="spacingAndGlyphs">en réanimation</text>
<text x="678.1" y="1088.6" font-size="21" text-anchor="middle" fill="#b9323c" textLength="102.3" lengthAdjust="spacingAndGlyphs">le 07 Dec.</text>
<text x="938.3" y="1212.8" font-size="11" text-anchor="middle" fill="#c23a45" font-weight="700" stroke="#c23a45" stroke-width="0.35" textLength="13.2" lengthAdjust="spacingAndGlyphs">43</text>
<text x="939.5" y="1227.2" font-size="11" text-anchor="middle" fill="#c23a45" textLength="59.7" lengthAdjust="spacingAndGlyphs">admissions</text>
<path d="M948.5,1234.5 L962.5,1261.5" stroke="#b04450" stroke-width="1.1" fill="none"/>
<clipPath id="clip4"><rect x="1081.1" y="762.2" width="966.9" height="546.0"/></clipPath>
<rect x="1081.1" y="762.2" width="966.9" height="546.0" fill="#E5ECF6"/>
<path d="M1175.9,762.2 V1308.2 M1273.5,762.2 V1308.2 M1374.4,762.2 V1308.2 M1472.0,762.2 V1308.2 M1572.9,762.2 V1308.2 M1673.7,762.2 V1308.2 M1771.3,762.2 V1308.2 M1872.2,762.2 V1308.2 M1969.8,762.2 V1308.2 M1081.1,1209.4 H2048 M1081.1,1110.6 H2048 M1081.1,1011.8 H2048 M1081.1,913.0 H2048 M1081.1,814.2 H2048" stroke="#fff" stroke-opacity="0.72" stroke-width="1.4" fill="none" clip-path="url(#clip4)"/>
<text y="745.3" font-size="21.6"><tspan x="1223.4" fill="#2a3f5f" font-weight="700" stroke="#2a3f5f" stroke-width="0.35" textLength="334.0" lengthAdjust="spacingAndGlyphs">Décès hospitaliers quotidiens</tspan> <tspan x="1563.6" fill="#34445f" textLength="132.1" lengthAdjust="spacingAndGlyphs">du Covid19 -</tspan> <tspan x="1701.6" fill="#2a3f5f" font-weight="700" stroke="#2a3f5f" stroke-width="0.35" textLength="147.1" lengthAdjust="spacingAndGlyphs">Ile-de-France</tspan></text>
<text x="1074.0" y="1315.2" font-size="20" text-anchor="middle" fill="#3c4558">0</text>
<text x="1079.8" y="1216.4" font-size="20" text-anchor="end" fill="#3c4558" textLength="23.0" lengthAdjust="spacingAndGlyphs">50</text>
<text x="1079.8" y="1117.6" font-size="20" text-anchor="end" fill="#3c4558" textLength="34.5" lengthAdjust="spacingAndGlyphs">100</text>
<text x="1079.8" y="1018.8" font-size="20" text-anchor="end" fill="#3c4558" textLength="34.5" lengthAdjust="spacingAndGlyphs">150</text>
<text x="1079.8" y="920.0" font-size="20" text-anchor="end" fill="#3c4558" textLength="34.5" lengthAdjust="spacingAndGlyphs">200</text>
<text x="1079.8" y="821.2" font-size="20" text-anchor="end" fill="#3c4558" textLength="34.5" lengthAdjust="spacingAndGlyphs">250</text>
<path d="M1081.1,1308.0 H2048" stroke="#73767c" stroke-width="2.2" fill="none"/>
<g fill="#000" fill-opacity="0.4" clip-path="url(#clip4b)"><circle cx="1195.2" cy="762.2" r="3.2"/><circle cx="1205.0" cy="789.8" r="3.2"/><circle cx="1192.0" cy="811.7" r="3.2"/><circle cx="1217.8" cy="841.1" r="3.2"/><circle cx="1172.5" cy="862.8" r="3.2"/><circle cx="1182.2" cy="861.2" r="3.2"/><circle cx="1198.6" cy="859.1" r="3.2"/><circle cx="1179.1" cy="898.4" r="3.2"/><circle cx="1221.4" cy="894.5" r="3.2"/><circle cx="1175.6" cy="924.2" r="3.2"/><circle cx="1201.7" cy="930.0" r="3.2"/><circle cx="1228.0" cy="922.2" r="3.2"/><circle cx="1237.7" cy="935.9" r="3.2"/><circle cx="1214.7" cy="983.6" r="3.2"/><circle cx="1263.4" cy="995.5" r="3.2"/><circle cx="1231.1" cy="1001.4" r="3.2"/><circle cx="1239.7" cy="997.2" r="3.2"/><circle cx="1169.1" cy="1017.2" r="3.2"/><circle cx="1188.6" cy="1031.1" r="3.2"/><circle cx="1211.4" cy="1042.8" r="3.2"/><circle cx="1244.1" cy="1050.8" r="3.2"/><circle cx="1249.8" cy="1058.4" r="3.2"/><circle cx="1208.3" cy="1068.6" r="3.2"/><circle cx="1159.7" cy="1070.6" r="3.2"/><circle cx="1165.5" cy="1070.6" r="3.2"/><circle cx="1247.2" cy="1078.4" r="3.2"/><circle cx="1162.3" cy="1086.2" r="3.2"/><circle cx="1156.1" cy="1098.3" r="3.2"/><circle cx="1153.0" cy="1115.9" r="3.2"/><circle cx="1234.2" cy="1124.1" r="3.2"/><circle cx="1283.1" cy="1124.1" r="3.2"/><circle cx="1149.5" cy="1171.7" r="3.2"/><circle cx="1286.6" cy="1151.9" r="3.2"/><circle cx="1269.8" cy="1165.5" r="3.2"/><circle cx="1309.2" cy="1167.5" r="3.2"/><circle cx="1253.8" cy="1173.4" r="3.2"/><circle cx="1257.2" cy="1185.5" r="3.2"/><circle cx="1305.8" cy="1195.3" r="3.2"/><circle cx="1331.9" cy="1201.1" r="3.2"/><circle cx="1146.4" cy="1217.2" r="3.2"/><circle cx="1292.8" cy="1217.0" r="3.2"/><circle cx="1133.4" cy="1235.0" r="3.2"/><circle cx="1273.3" cy="1226.9" r="3.2"/><circle cx="1276.4" cy="1228.8" r="3.2"/><circle cx="1328.8" cy="1230.6" r="3.2"/><circle cx="1354.5" cy="1232.7" r="3.2"/><circle cx="1367.8" cy="1232.7" r="3.2"/><circle cx="1378.8" cy="1236.9" r="3.2"/><circle cx="1312.3" cy="1236.9" r="3.2"/><circle cx="1315.5" cy="1236.9" r="3.2"/><circle cx="1279.8" cy="1244.7" r="3.2"/><circle cx="1295.9" cy="1244.7" r="3.2"/><circle cx="1299.1" cy="1248.6" r="3.2"/><circle cx="1318.9" cy="1246.7" r="3.2"/><circle cx="1351.4" cy="1242.8" r="3.2"/><circle cx="1335.0" cy="1250.6" r="3.2"/><circle cx="1377.2" cy="1250.6" r="3.2"/><circle cx="1358.4" cy="1254.5" r="3.2"/><circle cx="1139.7" cy="1252.5" r="3.2"/><circle cx="1136.6" cy="1256.6" r="3.2"/><circle cx="1143.1" cy="1260.5" r="3.2"/><circle cx="1302.5" cy="1260.6" r="3.2"/><circle cx="1338.1" cy="1262.3" r="3.2"/><circle cx="1322.0" cy="1276.4" r="3.2"/><circle cx="1325.3" cy="1274.1" r="3.2"/><circle cx="1364.2" cy="1274.4" r="3.2"/><circle cx="1370.9" cy="1272.5" r="3.2"/><circle cx="1374.1" cy="1282.2" r="3.2"/><circle cx="1344.8" cy="1288.1" r="3.2"/><circle cx="1348.3" cy="1284.2" r="3.2"/><circle cx="1400.3" cy="1248.4" r="3.2"/><circle cx="1423.0" cy="1270.3" r="3.2"/><circle cx="1491.2" cy="1274.4" r="3.2"/><circle cx="1445.6" cy="1280.0" r="3.2"/><circle cx="1383.4" cy="1284.2" r="3.2"/><circle cx="1387.3" cy="1284.2" r="3.2"/><circle cx="1396.7" cy="1280.3" r="3.2"/><circle cx="1455.6" cy="1286.1" r="3.2"/><circle cx="1468.3" cy="1288.1" r="3.2"/><circle cx="1403.4" cy="1290.2" r="3.2"/><circle cx="1406.9" cy="1285.0" r="3.2"/><circle cx="1419.4" cy="1286.6" r="3.2"/><circle cx="1436.6" cy="1285.0" r="3.2"/><circle cx="1494.4" cy="1287.7" r="3.2"/><circle cx="1579.1" cy="1283.9" r="3.2"/><circle cx="1637.7" cy="1278.3" r="3.2"/><circle cx="1653.8" cy="1282.2" r="3.2"/><circle cx="1670.2" cy="1286.2" r="3.2"/><circle cx="1676.9" cy="1280.3" r="3.2"/><circle cx="1559.5" cy="1290.0" r="3.2"/><circle cx="1608.4" cy="1290.0" r="3.2"/><circle cx="1592.0" cy="1292.0" r="3.2"/><circle cx="1624.8" cy="1292.0" r="3.2"/><circle cx="1628.0" cy="1292.0" r="3.2"/><circle cx="1393.6" cy="1298.0" r="3.2"/><circle cx="1416.2" cy="1301.9" r="3.2"/><circle cx="1429.5" cy="1299.8" r="3.2"/><circle cx="1432.7" cy="1303.8" r="3.2"/><circle cx="1439.2" cy="1304.1" r="3.2"/><circle cx="1458.8" cy="1303.8" r="3.2"/><circle cx="1449.1" cy="1306.9" r="3.2"/><circle cx="1520.2" cy="1295.2" r="3.2"/><circle cx="1543.1" cy="1295.9" r="3.2"/><circle cx="1510.8" cy="1291.2" r="3.2"/><circle cx="1481.6" cy="1292.8" r="3.2"/><circle cx="1563.1" cy="1292.8" r="3.2"/><circle cx="1501.4" cy="1303.8" r="3.2"/><circle cx="1505.3" cy="1303.8" r="3.2"/><circle cx="1644.4" cy="1304.5" r="3.2"/><circle cx="1649.1" cy="1304.5" r="3.2"/><circle cx="1595.9" cy="1305.3" r="3.2"/><circle cx="1471.7" cy="1303.0" r="3.2"/><circle cx="1485.0" cy="1306.1" r="3.2"/><circle cx="1534.2" cy="1297.5" r="3.2"/><circle cx="1910.8" cy="1122.0" r="3.2"/><circle cx="1920.6" cy="1131.9" r="3.2"/><circle cx="1901.1" cy="1133.9" r="3.2"/><circle cx="1728.8" cy="1138.1" r="3.2"/><circle cx="1878.3" cy="1151.7" r="3.2"/><circle cx="1946.7" cy="1151.7" r="3.2"/><circle cx="1930.3" cy="1157.2" r="3.2"/><circle cx="1881.6" cy="1163.6" r="3.2"/><circle cx="1875.2" cy="1167.5" r="3.2"/><circle cx="1888.1" cy="1169.4" r="3.2"/><circle cx="1943.3" cy="1169.4" r="3.2"/><circle cx="1904.5" cy="1175.6" r="3.2"/><circle cx="1914.2" cy="1177.5" r="3.2"/><circle cx="1885.0" cy="1177.5" r="3.2"/><circle cx="1969.4" cy="1179.2" r="3.2"/><circle cx="1924.1" cy="1183.1" r="3.2"/><circle cx="1965.9" cy="1185.5" r="3.2"/><circle cx="1852.2" cy="1197.0" r="3.2"/><circle cx="1862.0" cy="1197.0" r="3.2"/><circle cx="1868.6" cy="1203.3" r="3.2"/><circle cx="1855.6" cy="1207.0" r="3.2"/><circle cx="1936.9" cy="1199.4" r="3.2"/><circle cx="1839.4" cy="1210.8" r="3.2"/><circle cx="1842.5" cy="1217.0" r="3.2"/><circle cx="1933.4" cy="1208.9" r="3.2"/><circle cx="1917.3" cy="1213.1" r="3.2"/><circle cx="1953.3" cy="1215.2" r="3.2"/><circle cx="1975.6" cy="1204.5" r="3.2"/><circle cx="1832.7" cy="1233.0" r="3.2"/><circle cx="1829.5" cy="1236.6" r="3.2"/><circle cx="1845.9" cy="1226.4" r="3.2"/><circle cx="1835.8" cy="1239.7" r="3.2"/><circle cx="1978.8" cy="1228.8" r="3.2"/><circle cx="1806.9" cy="1244.4" r="3.2"/><circle cx="1871.9" cy="1244.4" r="3.2"/><circle cx="1959.7" cy="1244.4" r="3.2"/><circle cx="1722.2" cy="1250.6" r="3.2"/><circle cx="1816.6" cy="1250.6" r="3.2"/><circle cx="1810.0" cy="1254.5" r="3.2"/><circle cx="1894.7" cy="1250.6" r="3.2"/><circle cx="1963.1" cy="1254.5" r="3.2"/><circle cx="1761.2" cy="1258.4" r="3.2"/><circle cx="1784.1" cy="1260.5" r="3.2"/><circle cx="1793.8" cy="1260.5" r="3.2"/><circle cx="1940.2" cy="1258.4" r="3.2"/><circle cx="1849.1" cy="1262.3" r="3.2"/><circle cx="1767.8" cy="1266.2" r="3.2"/><circle cx="1790.5" cy="1266.2" r="3.2"/><circle cx="1741.2" cy="1270.2" r="3.2"/><circle cx="1813.9" cy="1270.9" r="3.2"/><circle cx="1744.4" cy="1280.3" r="3.2"/><circle cx="1800.3" cy="1280.3" r="3.2"/><circle cx="1803.8" cy="1286.2" r="3.2"/><circle cx="1777.2" cy="1281.9" r="3.2"/><circle cx="1764.7" cy="1286.6" r="3.2"/><circle cx="1715.5" cy="1289.7" r="3.2"/><circle cx="1731.9" cy="1290.0" r="3.2"/><circle cx="1738.1" cy="1292.0" r="3.2"/><circle cx="1735.0" cy="1295.9" r="3.2"/><circle cx="1751.4" cy="1294.1" r="3.2"/><circle cx="1696.7" cy="1292.0" r="3.2"/><circle cx="1780.8" cy="1298.0" r="3.2"/><circle cx="1712.3" cy="1304.5" r="3.2"/><circle cx="1686.6" cy="1305.3" r="3.2"/><circle cx="1956.9" cy="1192.8" r="3.2"/><circle cx="1988.6" cy="1203.0" r="3.2"/><circle cx="1985.7" cy="1278.3" r="3.2"/><circle cx="1897.5" cy="1084.5" r="3.2"/></g>
<path d="M1153.3,1214.7 L1160.0,1164.7 L1163.9,1129.8 L1169.4,1080.0 L1175.6,1023.8 L1180.3,983.1 L1183.8,960.0 L1186.1,942.0 L1187.7,934.2 L1192.3,914.7 L1195.9,891.2 L1196.6,885.8 L1200.0,885.2 L1202.7,880.5 L1207.0,880.5 L1208.8,891.2 L1211.9,893.6 L1213.4,895.2 L1215.0,906.9 L1217.3,922.5 L1218.9,930.3 L1222.8,934.2 L1225.9,937.3 L1226.7,945.9 L1228.3,949.8 L1233.8,950.6 L1237.7,953.8 L1240.8,956.1 L1241.6,960.0 L1242.0,976.9 L1247.5,1011.2 L1253.0,1048.8 L1256.9,1065.9 L1260.8,1087.8 L1264.7,1089.4 L1270.2,1106.6 L1273.3,1131.9 L1280.3,1149.1 L1284.2,1156.9 L1286.6,1175.6 L1292.8,1194.4 L1302.2,1202.2 L1305.3,1210.0 L1310.0,1216.2 L1313.1,1224.1 L1325.6,1235.0 L1335.0,1244.4 L1347.5,1251.4 L1353.8,1256.9 L1361.6,1256.9 L1365.5,1264.7 L1370.9,1253.0 L1378.0,1260.8 L1381.1,1257.7 L1393.6,1270.9 L1401.4,1270.9 L1403.8,1278.0 L1416.2,1279.5 L1427.2,1285.0 L1433.4,1289.7 L1452.2,1295.2 L1455.3,1292.0 L1466.2,1296.7 L1478.8,1298.3 L1489.7,1295.9 L1494.4,1293.6 L1505.3,1295.9 L1510.8,1294.4 L1516.2,1299.1 L1524.1,1300.6 L1539.7,1301.4 L1556.9,1299.8 L1563.1,1297.5 L1574.1,1300.6 L1578.8,1296.7 L1588.1,1299.1 L1592.8,1297.5 L1602.2,1299.8 L1617.8,1300.3 L1631.9,1298.3 L1639.7,1293.6 L1644.4,1293.6 L1649.1,1296.7 L1656.9,1294.4 L1666.2,1299.8 L1670.9,1295.9 L1681.9,1294.4 L1694.4,1295.6 L1700.6,1298.3 L1708.4,1297.5 L1719.4,1295.2 L1724.1,1288.1 L1726.4,1286.6 L1727.2,1263.1 L1733.4,1262.3 L1742.0,1259.2 L1745.9,1264.7 L1749.1,1262.3 L1751.4,1286.6 L1757.7,1285.0 L1760.0,1278.8 L1763.9,1281.1 L1769.4,1278.8 L1777.2,1276.4 L1785.0,1278.8 L1791.2,1277.2 L1797.5,1273.3 L1805.3,1269.4 L1810.0,1266.2 L1816.2,1265.5 L1822.5,1261.6 L1831.9,1253.8 L1838.1,1244.4 L1845.2,1230.3 L1848.0,1230.4 L1853.9,1221.6 L1862.6,1215.7 L1872.4,1210.8 L1878.3,1202.0 L1885.1,1186.4 L1889.0,1180.5 L1894.9,1179.6 L1897.8,1166.9 L1901.7,1165.9 L1906.6,1165.9 L1909.5,1160.0 L1914.4,1158.1 L1917.3,1156.1 L1920.3,1156.1 L1924.2,1167.9 L1931.0,1162.0 L1933.9,1174.7 L1939.8,1182.5 L1944.7,1193.2 L1947.6,1183.5 L1953.5,1201.1 L1957.4,1195.2 L1960.3,1204.0 L1964.2,1203.0 L1971.0,1208.9 L1975.9,1209.8 L1978.9,1212.8 L1988.6,1224.0 L1988.6,1308.2 L1153.3,1308.2 Z" fill="#000" fill-opacity="0.3" clip-path="url(#clip4)"/>
<path d="M1819.0,1163.3 L1988.6,1224.0" stroke="#33363c" stroke-width="1.3" fill="none"/>
<path d="M1153.3,1214.7 L1160.0,1164.7 L1163.9,1129.8 L1169.4,1080.0 L1175.6,1023.8 L1180.3,983.1 L1183.8,960.0 L1186.1,942.0 L1187.7,934.2 L1192.3,914.7 L1195.9,891.2 L1196.6,885.8 L1200.0,885.2 L1202.7,880.5 L1207.0,880.5 L1208.8,891.2 L1211.9,893.6 L1213.4,895.2 L1215.0,906.9 L1217.3,922.5 L1218.9,930.3 L1222.8,934.2 L1225.9,937.3 L1226.7,945.9 L1228.3,949.8 L1233.8,950.6 L1237.7,953.8 L1240.8,956.1 L1241.6,960.0 L1242.0,976.9 L1247.5,1011.2 L1253.0,1048.8 L1256.9,1065.9 L1260.8,1087.8 L1264.7,1089.4 L1270.2,1106.6 L1273.3,1131.9 L1280.3,1149.1 L1284.2,1156.9 L1286.6,1175.6 L1292.8,1194.4 L1302.2,1202.2 L1305.3,1210.0 L1310.0,1216.2 L1313.1,1224.1 L1325.6,1235.0 L1335.0,1244.4 L1347.5,1251.4 L1353.8,1256.9 L1361.6,1256.9 L1365.5,1264.7 L1370.9,1253.0 L1378.0,1260.8 L1381.1,1257.7 L1393.6,1270.9 L1401.4,1270.9 L1403.8,1278.0 L1416.2,1279.5 L1427.2,1285.0 L1433.4,1289.7 L1452.2,1295.2 L1455.3,1292.0 L1466.2,1296.7 L1478.8,1298.3 L1489.7,1295.9 L1494.4,1293.6 L1505.3,1295.9 L1510.8,1294.4 L1516.2,1299.1 L1524.1,1300.6 L1539.7,1301.4 L1556.9,1299.8 L1563.1,1297.5 L1574.1,1300.6 L1578.8,1296.7 L1588.1,1299.1 L1592.8,1297.5 L1602.2,1299.8 L1617.8,1300.3 L1631.9,1298.3 L1639.7,1293.6 L1644.4,1293.6 L1649.1,1296.7 L1656.9,1294.4 L1666.2,1299.8 L1670.9,1295.9 L1681.9,1294.4 L1694.4,1295.6 L1700.6,1298.3 L1708.4,1297.5 L1719.4,1295.2 L1724.1,1288.1 L1726.4,1286.6 L1727.2,1263.1 L1733.4,1262.3 L1742.0,1259.2 L1745.9,1264.7 L1749.1,1262.3 L1751.4,1286.6 L1757.7,1285.0 L1760.0,1278.8 L1763.9,1281.1 L1769.4,1278.8 L1777.2,1276.4 L1785.0,1278.8 L1791.2,1277.2 L1797.5,1273.3 L1805.3,1269.4 L1810.0,1266.2 L1816.2,1265.5 L1822.5,1261.6 L1831.9,1253.8 L1838.1,1244.4 L1845.2,1230.3 L1848.0,1230.4 L1853.9,1221.6 L1862.6,1215.7 L1872.4,1210.8 L1878.3,1202.0 L1885.1,1186.4 L1889.0,1180.5 L1894.9,1179.6 L1897.8,1166.9 L1901.7,1165.9 L1906.6,1165.9 L1909.5,1160.0 L1914.4,1158.1 L1917.3,1156.1 L1920.3,1156.1 L1924.2,1167.9 L1931.0,1162.0 L1933.9,1174.7 L1939.8,1182.5 L1944.7,1193.2 L1947.6,1183.5 L1953.5,1201.1 L1957.4,1195.2 L1960.3,1204.0 L1964.2,1203.0 L1971.0,1208.9 L1975.9,1209.8 L1978.9,1212.8 L1988.6,1224.0" stroke="#000" stroke-width="9.8" fill="none" stroke-linejoin="miter" stroke-miterlimit="2" clip-path="url(#clip4b)"/>
<circle cx="1988.6" cy="1224.0" r="8.5" fill="#000"/>
<text x="1175.9" y="1329.6" font-size="20.5" text-anchor="middle" fill="#3c4558" textLength="54.8" lengthAdjust="spacingAndGlyphs">01/04</text>
<text x="1273.5" y="1329.6" font-size="20.5" text-anchor="middle" fill="#3c4558" textLength="54.8" lengthAdjust="spacingAndGlyphs">01/05</text>
<text x="1374.4" y="1329.6" font-size="20.5" text-anchor="middle" fill="#3c4558" textLength="54.8" lengthAdjust="spacingAndGlyphs">01/06</text>
<text x="1472.0" y="1329.6" font-size="20.5" text-anchor="middle" fill="#3c4558" textLength="54.8" lengthAdjust="spacingAndGlyphs">01/07</text>
<text x="1572.9" y="1329.6" font-size="20.5" text-anchor="middle" fill="#3c4558" textLength="54.8" lengthAdjust="spacingAndGlyphs">01/08</text>
<text x="1673.7" y="1329.6" font-size="20.5" text-anchor="middle" fill="#3c4558" textLength="54.8" lengthAdjust="spacingAndGlyphs">01/09</text>
<text x="1771.3" y="1329.6" font-size="20.5" text-anchor="middle" fill="#3c4558" textLength="54.8" lengthAdjust="spacingAndGlyphs">01/10</text>
<text x="1872.2" y="1329.6" font-size="20.5" text-anchor="middle" fill="#3c4558" textLength="54.8" lengthAdjust="spacingAndGlyphs">01/11</text>
<text x="1969.8" y="1329.6" font-size="20.5" text-anchor="middle" fill="#3c4558" textLength="54.8" lengthAdjust="spacingAndGlyphs">01/12</text>
<path d="M1175.9,1302.0 V1307.2 M1273.5,1302.0 V1307.2 M1374.4,1302.0 V1307.2 M1472.0,1302.0 V1307.2 M1572.9,1302.0 V1307.2 M1673.7,1302.0 V1307.2 M1771.3,1302.0 V1307.2 M1872.2,1302.0 V1307.2 M1969.8,1302.0 V1307.2" stroke="#4a4d55" stroke-width="1.3" fill="none"/>
<text y="782.9" font-size="17.3"><tspan x="1082.9" fill="#34445f" textLength="19.8" lengthAdjust="spacingAndGlyphs">07</tspan> <tspan x="1106.9" fill="#34445f" textLength="34.8" lengthAdjust="spacingAndGlyphs">Dec.</tspan> <tspan x="1146.3" fill="#34445f" textLength="70.6" lengthAdjust="spacingAndGlyphs">Données</tspan> <tspan x="1220.9" fill="#34445f">:</tspan> <tspan x="1230.3" fill="#34445f" textLength="44.2" lengthAdjust="spacingAndGlyphs">Santé</tspan> <tspan x="1280.1" fill="#34445f" textLength="70.2" lengthAdjust="spacingAndGlyphs">publique</tspan> <tspan x="1354.9" fill="#34445f" textLength="57.4" lengthAdjust="spacingAndGlyphs">France.</tspan> <tspan x="1417.3" fill="#2a3f5f" font-weight="700" stroke="#2a3f5f" stroke-width="0.35" textLength="155.6" lengthAdjust="spacingAndGlyphs">@GuillaumeRozier</tspan> <tspan x="1578.0" fill="#2a3f5f" font-weight="700" stroke="#2a3f5f" stroke-width="0.35">-</tspan> <tspan x="1587.7" fill="#2a3f5f" font-weight="700" stroke="#2a3f5f" stroke-width="0.35" textLength="127.1" lengthAdjust="spacingAndGlyphs">covidtracker.fr</tspan></text>
<rect x="1585.2" y="1073.2" width="233.3" height="95.6" fill="#fff" fill-opacity="0.6"/>
<text x="1704.5" y="1099.8" font-size="21" text-anchor="middle" fill="#2c2f36" font-weight="700" stroke="#2c2f36" stroke-width="0.35" textLength="223.7" lengthAdjust="spacingAndGlyphs">42 décès quotidiens</text>
<text x="1701.8" y="1129.5" font-size="21" text-anchor="middle" fill="#2c2f36" textLength="132.2" lengthAdjust="spacingAndGlyphs">en moyenne</text>
<text x="1701.8" y="1158.9" font-size="21" text-anchor="middle" fill="#2c2f36" textLength="175.8" lengthAdjust="spacingAndGlyphs">du 01 au 07 Dec.</text>
</svg>
</body>
</html>
